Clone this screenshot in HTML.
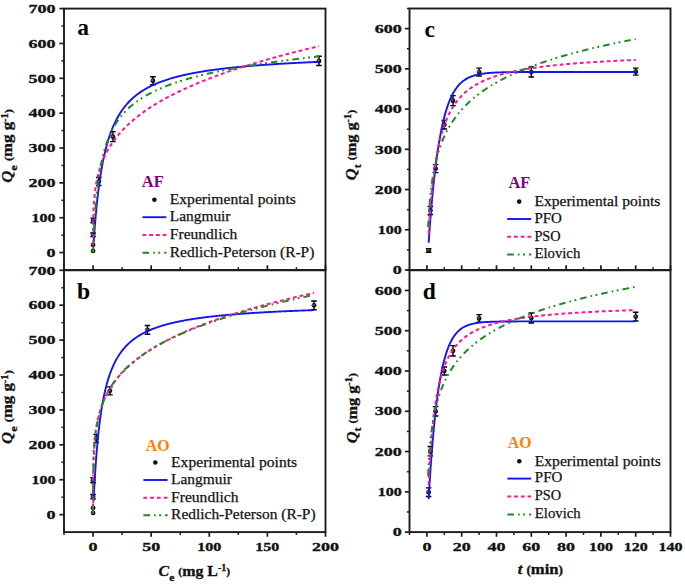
<!DOCTYPE html>
<html><head><meta charset="utf-8"><style>
html,body{margin:0;padding:0;background:#fff;}
body{width:685px;height:587px;overflow:hidden;}
svg{display:block;}
.tk{font-family:"Liberation Serif",serif;font-weight:bold;font-size:12.5px;fill:#111;stroke:#111;stroke-width:0.3px;}
.pl{font-family:"Liberation Serif",serif;font-weight:bold;font-size:23.5px;fill:#000;}
.at{font-family:"Liberation Serif",serif;font-weight:bold;font-size:15px;fill:#111;stroke:#111;stroke-width:0.3px;}
.lt{font-family:"Liberation Serif",serif;font-weight:bold;font-size:16px;}
.lg{font-family:"Liberation Serif",serif;font-size:15px;fill:#111;stroke:#111;stroke-width:0.25px;}
</style></head>
<body>
<svg width="685" height="587" viewBox="0 0 685 587">
<defs><radialGradient id="ball" cx="0.4" cy="0.4" r="0.6"><stop offset="0" stop-color="#777"/><stop offset="0.6" stop-color="#111"/><stop offset="1" stop-color="#000"/></radialGradient></defs>
<rect width="100%" height="100%" fill="#fff"/>
<circle cx="93.06" cy="250.97" r="2.4" fill="url(#ball)"/>
<circle cx="93.06" cy="244.91" r="2.4" fill="url(#ball)"/>
<path d="M90.26,233.07H95.86M90.26,236.67H95.86M93.06,233.07V236.67" stroke="#000" stroke-width="1.4" fill="none"/>
<circle cx="93.06" cy="234.87" r="2.4" fill="url(#ball)"/>
<path d="M90.37,218.10H95.97M90.37,222.70H95.97M93.17,218.10V222.70" stroke="#000" stroke-width="1.4" fill="none"/>
<circle cx="93.17" cy="220.40" r="2.4" fill="url(#ball)"/>
<path d="M95.95,177.47H101.55M95.95,185.47H101.55M98.75,177.47V185.47" stroke="#000" stroke-width="1.4" fill="none"/>
<circle cx="98.75" cy="181.47" r="2.4" fill="url(#ball)"/>
<path d="M110.13,131.65H115.73M110.13,141.65H115.73M112.93,131.65V141.65" stroke="#000" stroke-width="1.4" fill="none"/>
<circle cx="112.93" cy="136.65" r="2.4" fill="url(#ball)"/>
<path d="M150.11,76.75H155.71M150.11,84.75H155.71M152.91,76.75V84.75" stroke="#000" stroke-width="1.4" fill="none"/>
<circle cx="152.91" cy="80.75" r="2.4" fill="url(#ball)"/>
<path d="M316.19,56.28H321.79M316.19,65.48H321.79M318.99,56.28V65.48" stroke="#000" stroke-width="1.4" fill="none"/>
<circle cx="318.99" cy="60.88" r="2.4" fill="url(#ball)"/>
<circle cx="93.06" cy="512.94" r="2.4" fill="url(#ball)"/>
<circle cx="93.06" cy="507.84" r="2.4" fill="url(#ball)"/>
<path d="M90.26,494.43H95.86M90.26,498.83H95.86M93.06,494.43V498.83" stroke="#000" stroke-width="1.4" fill="none"/>
<circle cx="93.06" cy="496.63" r="2.4" fill="url(#ball)"/>
<path d="M90.26,477.80H95.86M90.26,482.80H95.86M93.06,477.80V482.80" stroke="#000" stroke-width="1.4" fill="none"/>
<circle cx="93.06" cy="480.30" r="2.4" fill="url(#ball)"/>
<path d="M93.39,434.48H98.99M93.39,442.48H98.99M96.19,434.48V442.48" stroke="#000" stroke-width="1.4" fill="none"/>
<circle cx="96.19" cy="438.48" r="2.4" fill="url(#ball)"/>
<path d="M107.11,386.83H112.71M107.11,394.83H112.71M109.91,386.83V394.83" stroke="#000" stroke-width="1.4" fill="none"/>
<circle cx="109.91" cy="390.83" r="2.4" fill="url(#ball)"/>
<path d="M144.65,325.45H150.25M144.65,334.25H150.25M147.45,325.45V334.25" stroke="#000" stroke-width="1.4" fill="none"/>
<circle cx="147.45" cy="329.85" r="2.4" fill="url(#ball)"/>
<path d="M311.19,300.95H316.79M311.19,309.75H316.79M313.99,300.95V309.75" stroke="#000" stroke-width="1.4" fill="none"/>
<circle cx="313.99" cy="305.35" r="2.4" fill="url(#ball)"/>
<path d="M425.84,248.69H431.44M425.84,252.29H431.44M428.64,248.69V252.29" stroke="#000" stroke-width="1.4" fill="none"/>
<circle cx="428.64" cy="250.49" r="2.4" fill="url(#ball)"/>
<path d="M427.58,206.46H433.18M427.58,214.46H433.18M430.38,206.46V214.46" stroke="#000" stroke-width="1.4" fill="none"/>
<circle cx="430.38" cy="210.46" r="2.4" fill="url(#ball)"/>
<path d="M432.80,164.62H438.40M432.80,172.62H438.40M435.60,164.62V172.62" stroke="#000" stroke-width="1.4" fill="none"/>
<circle cx="435.60" cy="168.62" r="2.4" fill="url(#ball)"/>
<path d="M441.50,120.57H447.10M441.50,128.97H447.10M444.30,120.57V128.97" stroke="#000" stroke-width="1.4" fill="none"/>
<circle cx="444.30" cy="124.77" r="2.4" fill="url(#ball)"/>
<path d="M450.20,95.63H455.80M450.20,105.63H455.80M453.00,95.63V105.63" stroke="#000" stroke-width="1.4" fill="none"/>
<circle cx="453.00" cy="100.63" r="2.4" fill="url(#ball)"/>
<path d="M476.30,68.16H481.90M476.30,75.96H481.90M479.10,68.16V75.96" stroke="#000" stroke-width="1.4" fill="none"/>
<circle cx="479.10" cy="72.06" r="2.4" fill="url(#ball)"/>
<path d="M528.50,67.06H534.10M528.50,77.06H534.10M531.30,67.06V77.06" stroke="#000" stroke-width="1.4" fill="none"/>
<circle cx="531.30" cy="72.06" r="2.4" fill="url(#ball)"/>
<path d="M632.90,68.16H638.50M632.90,75.16H638.50M635.70,68.16V75.16" stroke="#000" stroke-width="1.4" fill="none"/>
<circle cx="635.70" cy="71.66" r="2.4" fill="url(#ball)"/>
<path d="M425.84,487.85H431.44M425.84,496.45H431.44M428.64,487.85V496.45" stroke="#000" stroke-width="1.4" fill="none"/>
<circle cx="428.64" cy="492.15" r="2.4" fill="url(#ball)"/>
<path d="M427.58,446.48H433.18M427.58,455.88H433.18M430.38,446.48V455.88" stroke="#000" stroke-width="1.4" fill="none"/>
<circle cx="430.38" cy="451.18" r="2.4" fill="url(#ball)"/>
<path d="M432.80,406.61H438.40M432.80,416.01H438.40M435.60,406.61V416.01" stroke="#000" stroke-width="1.4" fill="none"/>
<circle cx="435.60" cy="411.31" r="2.4" fill="url(#ball)"/>
<path d="M441.50,366.99H447.10M441.50,374.99H447.10M444.30,366.99V374.99" stroke="#000" stroke-width="1.4" fill="none"/>
<circle cx="444.30" cy="370.99" r="2.4" fill="url(#ball)"/>
<path d="M450.20,345.65H455.80M450.20,356.05H455.80M453.00,345.65V356.05" stroke="#000" stroke-width="1.4" fill="none"/>
<circle cx="453.00" cy="350.85" r="2.4" fill="url(#ball)"/>
<path d="M476.30,314.67H481.90M476.30,322.27H481.90M479.10,314.67V322.27" stroke="#000" stroke-width="1.4" fill="none"/>
<circle cx="479.10" cy="318.47" r="2.4" fill="url(#ball)"/>
<path d="M528.50,312.99H534.10M528.50,322.99H534.10M531.30,312.99V322.99" stroke="#000" stroke-width="1.4" fill="none"/>
<circle cx="531.30" cy="317.99" r="2.4" fill="url(#ball)"/>
<path d="M632.90,312.22H638.50M632.90,321.02H638.50M635.70,312.22V321.02" stroke="#000" stroke-width="1.4" fill="none"/>
<circle cx="635.70" cy="316.62" r="2.4" fill="url(#ball)"/>
<path d="M93.69,242.35 L93.70,242.28 L93.70,242.21 L93.71,242.13 L93.71,242.06 L93.72,241.99 L93.72,241.91 L93.73,241.84 L93.73,241.76 L93.74,241.69 L93.74,241.61 L93.75,241.53 L93.75,241.46 L93.76,241.38 L93.76,241.30 L93.77,241.22 L93.77,241.14 L93.78,241.06 L93.79,240.98 L93.79,240.90 L93.80,240.82 L93.80,240.74 L93.81,240.66 L93.81,240.57 L93.82,240.49 L93.82,240.41 L93.83,240.32 L93.84,240.24 L93.84,240.15 L93.85,240.06 L93.85,239.98 L93.86,239.89 L93.87,239.80 L93.87,239.71 L93.88,239.62 L93.88,239.53 L93.89,239.44 L93.90,239.35 L93.90,239.26 L93.91,239.17 L93.91,239.08 L93.92,238.98 L93.93,238.89 L93.93,238.80 L93.94,238.70 L93.95,238.60 L93.95,238.51 L93.96,238.41 L93.97,238.31 L93.97,238.22 L93.98,238.12 L93.99,238.02 L93.99,237.92 L94.00,237.82 L94.01,237.72 L94.01,237.61 L94.02,237.51 L94.03,237.41 L94.04,237.30 L94.04,237.20 L94.05,237.10 L94.06,236.99 L94.07,236.88 L94.07,236.78 L94.08,236.67 L94.09,236.56 L94.10,236.45 L94.10,236.34 L94.11,236.23 L94.12,236.12 L94.13,236.01 L94.14,235.89 L94.14,235.78 L94.15,235.67 L94.16,235.55 L94.17,235.44 L94.18,235.32 L94.18,235.20 L94.19,235.09 L94.20,234.97 L94.21,234.85 L94.22,234.73 L94.23,234.61 L94.24,234.49 L94.24,234.37 L94.25,234.24 L94.26,234.12 L94.27,234.00 L94.28,233.87 L94.29,233.75 L94.30,233.62 L94.31,233.49 L94.32,233.37 L94.33,233.24 L94.33,233.11 L94.34,232.98 L94.35,232.85 L94.36,232.71 L94.37,232.58 L94.38,232.45 L94.39,232.31 L94.40,232.18 L94.41,232.04 L94.42,231.91 L94.43,231.77 L94.44,231.63 L94.45,231.49 L94.46,231.35 L94.47,231.21 L94.48,231.07 L94.50,230.93 L94.51,230.79 L94.52,230.64 L94.53,230.50 L94.54,230.35 L94.55,230.21 L94.56,230.06 L94.57,229.91 L94.58,229.76 L94.59,229.61 L94.61,229.46 L94.62,229.31 L94.63,229.16 L94.64,229.01 L94.65,228.85 L94.66,228.70 L94.68,228.54 L94.69,228.38 L94.70,228.23 L94.71,228.07 L94.72,227.91 L94.74,227.75 L94.75,227.59 L94.76,227.43 L94.77,227.26 L94.79,227.10 L94.80,226.93 L94.81,226.77 L94.83,226.60 L94.84,226.44 L94.85,226.27 L94.87,226.10 L94.88,225.93 L94.89,225.76 L94.91,225.58 L94.92,225.41 L94.93,225.24 L94.95,225.06 L94.96,224.89 L94.98,224.71 L94.99,224.53 L95.00,224.35 L95.02,224.18 L95.03,223.99 L95.05,223.81 L95.06,223.63 L95.08,223.45 L95.09,223.26 L95.11,223.08 L95.12,222.89 L95.14,222.70 L95.15,222.52 L95.17,222.33 L95.18,222.14 L95.20,221.95 L95.22,221.75 L95.23,221.56 L95.25,221.37 L95.26,221.17 L95.28,220.98 L95.30,220.78 L95.31,220.58 L95.33,220.38 L95.35,220.18 L95.36,219.98 L95.38,219.78 L95.40,219.58 L95.42,219.37 L95.43,219.17 L95.45,218.96 L95.47,218.75 L95.49,218.54 L95.51,218.34 L95.52,218.13 L95.54,217.91 L95.56,217.70 L95.58,217.49 L95.60,217.27 L95.62,217.06 L95.64,216.84 L95.65,216.63 L95.67,216.41 L95.69,216.19 L95.71,215.97 L95.73,215.75 L95.75,215.52 L95.77,215.30 L95.79,215.08 L95.81,214.85 L95.83,214.62 L95.85,214.39 L95.87,214.17 L95.90,213.94 L95.92,213.71 L95.94,213.47 L95.96,213.24 L95.98,213.01 L96.00,212.77 L96.02,212.54 L96.05,212.30 L96.07,212.06 L96.09,211.82 L96.11,211.58 L96.14,211.34 L96.16,211.10 L96.18,210.85 L96.20,210.61 L96.23,210.36 L96.25,210.12 L96.27,209.87 L96.30,209.62 L96.32,209.37 L96.35,209.12 L96.37,208.87 L96.40,208.61 L96.42,208.36 L96.45,208.11 L96.47,207.85 L96.50,207.59 L96.52,207.33 L96.55,207.08 L96.57,206.81 L96.60,206.55 L96.63,206.29 L96.65,206.03 L96.68,205.76 L96.71,205.50 L96.73,205.23 L96.76,204.96 L96.79,204.69 L96.81,204.43 L96.84,204.15 L96.87,203.88 L96.90,203.61 L96.93,203.34 L96.96,203.06 L96.99,202.79 L97.01,202.51 L97.04,202.23 L97.07,201.95 L97.10,201.67 L97.13,201.39 L97.16,201.11 L97.19,200.83 L97.22,200.54 L97.26,200.26 L97.29,199.97 L97.32,199.68 L97.35,199.39 L97.38,199.11 L97.41,198.82 L97.45,198.52 L97.48,198.23 L97.51,197.94 L97.54,197.65 L97.58,197.35 L97.61,197.05 L97.64,196.76 L97.68,196.46 L97.71,196.16 L97.75,195.86 L97.78,195.56 L97.82,195.26 L97.85,194.95 L97.89,194.65 L97.92,194.35 L97.96,194.04 L98.00,193.73 L98.03,193.43 L98.07,193.12 L98.11,192.81 L98.14,192.50 L98.18,192.19 L98.22,191.87 L98.26,191.56 L98.30,191.25 L98.33,190.93 L98.37,190.62 L98.41,190.30 L98.45,189.98 L98.49,189.66 L98.53,189.34 L98.57,189.02 L98.61,188.70 L98.66,188.38 L98.70,188.06 L98.74,187.74 L98.78,187.41 L98.82,187.09 L98.87,186.76 L99.60,181.38 L100.34,176.41 L101.08,171.81 L101.81,167.53 L102.55,163.55 L103.28,159.84 L104.02,156.36 L104.76,153.10 L105.49,150.04 L106.23,147.16 L106.96,144.44 L107.70,141.87 L108.44,139.44 L109.17,137.14 L109.91,134.95 L110.65,132.88 L111.38,130.90 L112.12,129.02 L112.85,127.23 L113.59,125.52 L114.33,123.88 L115.06,122.32 L115.80,120.82 L116.54,119.39 L117.27,118.01 L118.01,116.69 L118.74,115.42 L119.48,114.19 L120.22,113.02 L120.95,111.89 L121.69,110.79 L122.43,109.74 L123.16,108.73 L123.90,107.75 L124.63,106.80 L125.37,105.88 L126.11,105.00 L126.84,104.14 L127.58,103.31 L128.31,102.51 L129.05,101.73 L129.79,100.97 L130.52,100.24 L131.26,99.53 L132.00,98.84 L132.73,98.16 L133.47,97.51 L134.20,96.88 L134.94,96.26 L135.68,95.66 L136.41,95.08 L137.15,94.51 L137.89,93.95 L138.62,93.41 L139.36,92.89 L140.09,92.37 L140.83,91.87 L141.57,91.38 L142.30,90.91 L143.04,90.44 L143.78,89.99 L144.51,89.54 L145.25,89.11 L145.98,88.69 L146.72,88.27 L147.46,87.87 L148.19,87.47 L148.93,87.08 L149.66,86.70 L150.40,86.33 L151.14,85.97 L151.87,85.61 L152.61,85.26 L153.35,84.92 L154.08,84.59 L154.82,84.26 L155.55,83.94 L156.29,83.62 L157.03,83.32 L157.76,83.01 L158.50,82.72 L159.24,82.42 L159.97,82.14 L160.71,81.86 L161.44,81.58 L162.18,81.31 L162.92,81.04 L163.65,80.78 L164.39,80.53 L165.12,80.28 L165.86,80.03 L166.60,79.78 L167.33,79.55 L168.07,79.31 L168.81,79.08 L169.54,78.85 L170.28,78.63 L171.01,78.41 L171.75,78.19 L172.49,77.98 L173.22,77.77 L173.96,77.56 L174.70,77.36 L175.43,77.16 L176.17,76.96 L176.90,76.77 L177.64,76.58 L178.38,76.39 L179.11,76.21 L179.85,76.03 L180.59,75.85 L181.32,75.67 L182.06,75.49 L182.79,75.32 L183.53,75.15 L184.27,74.99 L185.00,74.82 L185.74,74.66 L186.47,74.50 L187.21,74.34 L187.95,74.19 L188.68,74.03 L189.42,73.88 L190.16,73.73 L190.89,73.59 L191.63,73.44 L192.36,73.30 L193.10,73.16 L193.84,73.02 L194.57,72.88 L195.31,72.74 L196.05,72.61 L196.78,72.48 L197.52,72.34 L198.25,72.22 L198.99,72.09 L199.73,71.96 L200.46,71.84 L201.20,71.71 L201.94,71.59 L202.67,71.47 L203.41,71.35 L204.14,71.24 L204.88,71.12 L205.62,71.01 L206.35,70.89 L207.09,70.78 L207.82,70.67 L208.56,70.56 L209.30,70.46 L210.03,70.35 L210.77,70.24 L211.51,70.14 L212.24,70.04 L212.98,69.93 L213.71,69.83 L214.45,69.73 L215.19,69.63 L215.92,69.54 L216.66,69.44 L217.40,69.35 L218.13,69.25 L218.87,69.16 L219.60,69.07 L220.34,68.97 L221.08,68.88 L221.81,68.79 L222.55,68.71 L223.29,68.62 L224.02,68.53 L224.76,68.45 L225.49,68.36 L226.23,68.28 L226.97,68.19 L227.70,68.11 L228.44,68.03 L229.17,67.95 L229.91,67.87 L230.65,67.79 L231.38,67.71 L232.12,67.63 L232.86,67.56 L233.59,67.48 L234.33,67.40 L235.06,67.33 L235.80,67.26 L236.54,67.18 L237.27,67.11 L238.01,67.04 L238.75,66.97 L239.48,66.90 L240.22,66.83 L240.95,66.76 L241.69,66.69 L242.43,66.62 L243.16,66.55 L243.90,66.49 L244.63,66.42 L245.37,66.35 L246.11,66.29 L246.84,66.22 L247.58,66.16 L248.32,66.10 L249.05,66.03 L249.79,65.97 L250.52,65.91 L251.26,65.85 L252.00,65.79 L252.73,65.73 L253.47,65.67 L254.21,65.61 L254.94,65.55 L255.68,65.49 L256.41,65.44 L257.15,65.38 L257.89,65.32 L258.62,65.27 L259.36,65.21 L260.10,65.16 L260.83,65.10 L261.57,65.05 L262.30,64.99 L263.04,64.94 L263.78,64.89 L264.51,64.83 L265.25,64.78 L265.98,64.73 L266.72,64.68 L267.46,64.63 L268.19,64.58 L268.93,64.53 L269.67,64.48 L270.40,64.43 L271.14,64.38 L271.87,64.33 L272.61,64.28 L273.35,64.23 L274.08,64.19 L274.82,64.14 L275.56,64.09 L276.29,64.05 L277.03,64.00 L277.76,63.95 L278.50,63.91 L279.24,63.86 L279.97,63.82 L280.71,63.77 L281.45,63.73 L282.18,63.69 L282.92,63.64 L283.65,63.60 L284.39,63.56 L285.13,63.51 L285.86,63.47 L286.60,63.43 L287.33,63.39 L288.07,63.35 L288.81,63.31 L289.54,63.27 L290.28,63.23 L291.02,63.19 L291.75,63.15 L292.49,63.11 L293.22,63.07 L293.96,63.03 L294.70,62.99 L295.43,62.95 L296.17,62.91 L296.91,62.87 L297.64,62.84 L298.38,62.80 L299.11,62.76 L299.85,62.72 L300.59,62.69 L301.32,62.65 L302.06,62.62 L302.80,62.58 L303.53,62.54 L304.27,62.51 L305.00,62.47 L305.74,62.44 L306.48,62.40 L307.21,62.37 L307.95,62.33 L308.68,62.30 L309.42,62.27 L310.16,62.23 L310.89,62.20 L311.63,62.17 L312.37,62.13 L313.10,62.10 L313.84,62.07 L314.57,62.03 L315.31,62.00 L316.05,61.97 L316.78,61.94 L317.52,61.91 L318.26,61.88 L318.99,61.84" fill="none" stroke="#1414f0" stroke-width="1.9" stroke-linejoin="round"/>
<path d="M93.06,244.98 L93.06,244.92 L93.06,244.86 L93.06,244.80 L93.06,244.73 L93.06,244.67 L93.06,244.61 L93.06,244.55 L93.06,244.48 L93.06,244.42 L93.06,244.35 L93.06,244.29 L93.06,244.22 L93.06,244.16 L93.06,244.09 L93.06,244.02 L93.06,243.95 L93.06,243.89 L93.06,243.82 L93.06,243.75 L93.06,243.68 L93.06,243.61 L93.06,243.54 L93.06,243.46 L93.06,243.39 L93.06,243.32 L93.06,243.25 L93.06,243.17 L93.06,243.10 L93.06,243.02 L93.06,242.95 L93.06,242.87 L93.06,242.79 L93.06,242.71 L93.06,242.64 L93.06,242.56 L93.06,242.48 L93.06,242.40 L93.06,242.32 L93.06,242.24 L93.06,242.15 L93.06,242.07 L93.06,241.99 L93.06,241.90 L93.06,241.82 L93.06,241.73 L93.06,241.65 L93.06,241.56 L93.06,241.47 L93.06,241.39 L93.06,241.30 L93.06,241.21 L93.06,241.12 L93.06,241.03 L93.06,240.93 L93.06,240.84 L93.06,240.75 L93.06,240.66 L93.06,240.56 L93.06,240.47 L93.06,240.37 L93.06,240.27 L93.06,240.18 L93.06,240.08 L93.06,239.98 L93.06,239.88 L93.06,239.78 L93.06,239.68 L93.06,239.57 L93.06,239.47 L93.06,239.37 L93.06,239.26 L93.06,239.16 L93.06,239.05 L93.06,238.94 L93.06,238.83 L93.06,238.72 L93.06,238.61 L93.06,238.50 L93.06,238.39 L93.06,238.28 L93.06,238.17 L93.06,238.05 L93.06,237.94 L93.06,237.82 L93.06,237.70 L93.06,237.59 L93.06,237.47 L93.06,237.35 L93.06,237.23 L93.06,237.10 L93.07,236.98 L93.07,236.86 L93.07,236.73 L93.07,236.61 L93.07,236.48 L93.07,236.35 L93.07,236.22 L93.07,236.09 L93.07,235.96 L93.07,235.83 L93.07,235.70 L93.07,235.57 L93.07,235.43 L93.07,235.29 L93.07,235.16 L93.07,235.02 L93.07,234.88 L93.07,234.74 L93.07,234.60 L93.07,234.46 L93.07,234.31 L93.07,234.17 L93.07,234.02 L93.08,233.87 L93.08,233.73 L93.08,233.58 L93.08,233.43 L93.08,233.27 L93.08,233.12 L93.08,232.97 L93.08,232.81 L93.08,232.65 L93.08,232.50 L93.08,232.34 L93.08,232.18 L93.08,232.01 L93.08,231.85 L93.09,231.69 L93.09,231.52 L93.09,231.35 L93.09,231.19 L93.09,231.02 L93.09,230.84 L93.09,230.67 L93.09,230.50 L93.09,230.32 L93.10,230.15 L93.10,229.97 L93.10,229.79 L93.10,229.61 L93.10,229.43 L93.10,229.24 L93.10,229.06 L93.10,228.87 L93.11,228.68 L93.11,228.49 L93.11,228.30 L93.11,228.11 L93.11,227.92 L93.11,227.72 L93.12,227.52 L93.12,227.32 L93.12,227.12 L93.12,226.92 L93.12,226.72 L93.13,226.51 L93.13,226.31 L93.13,226.10 L93.13,225.89 L93.14,225.68 L93.14,225.46 L93.14,225.25 L93.14,225.03 L93.15,224.81 L93.15,224.59 L93.15,224.37 L93.16,224.15 L93.16,223.92 L93.16,223.69 L93.16,223.46 L93.17,223.23 L93.17,223.00 L93.18,222.77 L93.18,222.53 L93.18,222.29 L93.19,222.05 L93.19,221.81 L93.20,221.56 L93.20,221.32 L93.20,221.07 L93.21,220.82 L93.21,220.57 L93.22,220.31 L93.22,220.06 L93.23,219.80 L93.23,219.54 L93.24,219.28 L93.25,219.01 L93.25,218.75 L93.26,218.48 L93.26,218.21 L93.27,217.94 L93.28,217.66 L93.28,217.39 L93.29,217.11 L93.30,216.82 L93.31,216.54 L93.31,216.26 L93.32,215.97 L93.33,215.68 L93.34,215.38 L93.35,215.09 L93.36,214.79 L93.37,214.49 L93.38,214.19 L93.39,213.88 L93.40,213.58 L93.41,213.27 L93.42,212.96 L93.43,212.64 L93.44,212.33 L93.45,212.01 L93.47,211.68 L93.48,211.36 L93.49,211.03 L93.51,210.70 L93.52,210.37 L93.53,210.04 L93.55,209.70 L93.57,209.36 L93.58,209.02 L93.60,208.67 L93.61,208.32 L93.63,207.97 L93.65,207.62 L93.67,207.26 L93.69,206.90 L93.71,206.54 L93.73,206.17 L93.75,205.81 L93.77,205.43 L93.79,205.06 L93.82,204.68 L93.84,204.30 L93.86,203.92 L93.89,203.53 L93.92,203.14 L93.94,202.75 L93.97,202.36 L94.00,201.96 L94.03,201.56 L94.06,201.15 L94.09,200.74 L94.12,200.33 L94.16,199.92 L94.19,199.50 L94.23,199.08 L94.26,198.66 L94.30,198.23 L94.34,197.80 L94.38,197.36 L94.42,196.92 L94.46,196.48 L94.51,196.04 L94.55,195.59 L94.60,195.14 L94.65,194.68 L94.70,194.22 L94.75,193.76 L94.80,193.29 L94.86,192.82 L94.91,192.35 L94.97,191.87 L95.03,191.39 L95.09,190.90 L95.16,190.41 L95.22,189.92 L95.29,189.42 L95.36,188.92 L95.43,188.42 L95.51,187.91 L95.59,187.40 L95.66,186.88 L95.75,186.36 L95.83,185.83 L95.92,185.30 L96.01,184.77 L96.10,184.23 L96.19,183.69 L96.29,183.14 L96.39,182.59 L96.50,182.04 L96.61,181.48 L96.72,180.91 L96.83,180.34 L96.95,179.77 L97.07,179.19 L97.20,178.61 L97.33,178.02 L97.46,177.43 L97.60,176.84 L97.74,176.24 L97.89,175.63 L98.04,175.02 L98.19,174.40 L98.35,173.78 L98.52,173.16 L98.69,172.53 L98.87,171.89 L99.60,169.39 L100.34,167.08 L101.08,164.94 L101.81,162.95 L102.55,161.07 L103.28,159.30 L104.02,157.62 L104.76,156.02 L105.49,154.50 L106.23,153.04 L106.96,151.65 L107.70,150.30 L108.44,149.01 L109.17,147.76 L109.91,146.55 L110.65,145.38 L111.38,144.25 L112.12,143.15 L112.85,142.08 L113.59,141.04 L114.33,140.02 L115.06,139.04 L115.80,138.07 L116.54,137.14 L117.27,136.22 L118.01,135.32 L118.74,134.44 L119.48,133.58 L120.22,132.74 L120.95,131.92 L121.69,131.11 L122.43,130.31 L123.16,129.53 L123.90,128.77 L124.63,128.02 L125.37,127.28 L126.11,126.55 L126.84,125.84 L127.58,125.14 L128.31,124.44 L129.05,123.76 L129.79,123.09 L130.52,122.43 L131.26,121.78 L132.00,121.14 L132.73,120.50 L133.47,119.88 L134.20,119.26 L134.94,118.66 L135.68,118.06 L136.41,117.46 L137.15,116.88 L137.89,116.30 L138.62,115.73 L139.36,115.17 L140.09,114.61 L140.83,114.06 L141.57,113.51 L142.30,112.98 L143.04,112.44 L143.78,111.92 L144.51,111.40 L145.25,110.88 L145.98,110.37 L146.72,109.87 L147.46,109.37 L148.19,108.87 L148.93,108.38 L149.66,107.90 L150.40,107.42 L151.14,106.94 L151.87,106.47 L152.61,106.00 L153.35,105.54 L154.08,105.08 L154.82,104.63 L155.55,104.18 L156.29,103.73 L157.03,103.29 L157.76,102.85 L158.50,102.41 L159.24,101.98 L159.97,101.55 L160.71,101.13 L161.44,100.71 L162.18,100.29 L162.92,99.87 L163.65,99.46 L164.39,99.06 L165.12,98.65 L165.86,98.25 L166.60,97.85 L167.33,97.45 L168.07,97.06 L168.81,96.67 L169.54,96.28 L170.28,95.90 L171.01,95.52 L171.75,95.14 L172.49,94.76 L173.22,94.39 L173.96,94.02 L174.70,93.65 L175.43,93.28 L176.17,92.92 L176.90,92.56 L177.64,92.20 L178.38,91.84 L179.11,91.48 L179.85,91.13 L180.59,90.78 L181.32,90.43 L182.06,90.09 L182.79,89.74 L183.53,89.40 L184.27,89.06 L185.00,88.73 L185.74,88.39 L186.47,88.06 L187.21,87.72 L187.95,87.39 L188.68,87.07 L189.42,86.74 L190.16,86.42 L190.89,86.09 L191.63,85.77 L192.36,85.46 L193.10,85.14 L193.84,84.82 L194.57,84.51 L195.31,84.20 L196.05,83.89 L196.78,83.58 L197.52,83.27 L198.25,82.97 L198.99,82.66 L199.73,82.36 L200.46,82.06 L201.20,81.76 L201.94,81.46 L202.67,81.17 L203.41,80.87 L204.14,80.58 L204.88,80.29 L205.62,80.00 L206.35,79.71 L207.09,79.42 L207.82,79.14 L208.56,78.85 L209.30,78.57 L210.03,78.28 L210.77,78.00 L211.51,77.72 L212.24,77.45 L212.98,77.17 L213.71,76.89 L214.45,76.62 L215.19,76.35 L215.92,76.07 L216.66,75.80 L217.40,75.53 L218.13,75.27 L218.87,75.00 L219.60,74.73 L220.34,74.47 L221.08,74.20 L221.81,73.94 L222.55,73.68 L223.29,73.42 L224.02,73.16 L224.76,72.90 L225.49,72.65 L226.23,72.39 L226.97,72.13 L227.70,71.88 L228.44,71.63 L229.17,71.38 L229.91,71.12 L230.65,70.87 L231.38,70.63 L232.12,70.38 L232.86,70.13 L233.59,69.88 L234.33,69.64 L235.06,69.40 L235.80,69.15 L236.54,68.91 L237.27,68.67 L238.01,68.43 L238.75,68.19 L239.48,67.95 L240.22,67.71 L240.95,67.48 L241.69,67.24 L242.43,67.00 L243.16,66.77 L243.90,66.54 L244.63,66.30 L245.37,66.07 L246.11,65.84 L246.84,65.61 L247.58,65.38 L248.32,65.15 L249.05,64.93 L249.79,64.70 L250.52,64.47 L251.26,64.25 L252.00,64.02 L252.73,63.80 L253.47,63.58 L254.21,63.36 L254.94,63.13 L255.68,62.91 L256.41,62.69 L257.15,62.47 L257.89,62.26 L258.62,62.04 L259.36,61.82 L260.10,61.61 L260.83,61.39 L261.57,61.17 L262.30,60.96 L263.04,60.75 L263.78,60.53 L264.51,60.32 L265.25,60.11 L265.98,59.90 L266.72,59.69 L267.46,59.48 L268.19,59.27 L268.93,59.06 L269.67,58.86 L270.40,58.65 L271.14,58.44 L271.87,58.24 L272.61,58.03 L273.35,57.83 L274.08,57.62 L274.82,57.42 L275.56,57.22 L276.29,57.02 L277.03,56.82 L277.76,56.62 L278.50,56.41 L279.24,56.22 L279.97,56.02 L280.71,55.82 L281.45,55.62 L282.18,55.42 L282.92,55.23 L283.65,55.03 L284.39,54.84 L285.13,54.64 L285.86,54.45 L286.60,54.25 L287.33,54.06 L288.07,53.87 L288.81,53.67 L289.54,53.48 L290.28,53.29 L291.02,53.10 L291.75,52.91 L292.49,52.72 L293.22,52.53 L293.96,52.34 L294.70,52.16 L295.43,51.97 L296.17,51.78 L296.91,51.59 L297.64,51.41 L298.38,51.22 L299.11,51.04 L299.85,50.85 L300.59,50.67 L301.32,50.49 L302.06,50.30 L302.80,50.12 L303.53,49.94 L304.27,49.76 L305.00,49.58 L305.74,49.40 L306.48,49.21 L307.21,49.04 L307.95,48.86 L308.68,48.68 L309.42,48.50 L310.16,48.32 L310.89,48.14 L311.63,47.97 L312.37,47.79 L313.10,47.61 L313.84,47.44 L314.57,47.26 L315.31,47.09 L316.05,46.91 L316.78,46.74 L317.52,46.57 L318.26,46.39 L318.99,46.22" fill="none" stroke="#ff1493" stroke-width="2" stroke-dasharray="3.8 2.95"/>
<path d="M93.06,252.57 L93.06,252.57 L93.06,252.57 L93.06,252.57 L93.06,252.57 L93.06,252.57 L93.06,252.57 L93.06,252.57 L93.06,252.57 L93.06,252.57 L93.06,252.57 L93.06,252.57 L93.06,252.57 L93.06,252.57 L93.06,252.57 L93.06,252.57 L93.06,252.57 L93.06,252.57 L93.06,252.57 L93.06,252.57 L93.06,252.57 L93.06,252.57 L93.06,252.57 L93.06,252.57 L93.06,252.57 L93.06,252.57 L93.06,252.56 L93.06,252.56 L93.06,252.56 L93.06,252.56 L93.06,252.56 L93.06,252.56 L93.06,252.56 L93.06,252.56 L93.06,252.56 L93.06,252.56 L93.06,252.56 L93.06,252.56 L93.06,252.56 L93.06,252.56 L93.06,252.56 L93.06,252.56 L93.06,252.56 L93.06,252.56 L93.06,252.56 L93.06,252.56 L93.06,252.56 L93.06,252.56 L93.06,252.55 L93.06,252.55 L93.06,252.55 L93.06,252.55 L93.06,252.55 L93.06,252.55 L93.06,252.55 L93.06,252.55 L93.06,252.55 L93.06,252.55 L93.06,252.55 L93.06,252.55 L93.06,252.54 L93.06,252.54 L93.06,252.54 L93.06,252.54 L93.06,252.54 L93.06,252.54 L93.06,252.54 L93.06,252.54 L93.06,252.54 L93.06,252.53 L93.06,252.53 L93.06,252.53 L93.06,252.53 L93.06,252.53 L93.06,252.53 L93.06,252.52 L93.06,252.52 L93.06,252.52 L93.06,252.52 L93.06,252.52 L93.06,252.51 L93.06,252.51 L93.06,252.51 L93.06,252.51 L93.06,252.51 L93.06,252.50 L93.06,252.50 L93.06,252.50 L93.06,252.49 L93.06,252.49 L93.06,252.49 L93.06,252.49 L93.06,252.48 L93.06,252.48 L93.06,252.48 L93.06,252.47 L93.06,252.47 L93.06,252.46 L93.06,252.46 L93.06,252.46 L93.06,252.45 L93.06,252.45 L93.06,252.44 L93.06,252.44 L93.06,252.43 L93.06,252.43 L93.06,252.42 L93.06,252.42 L93.06,252.41 L93.06,252.40 L93.06,252.40 L93.06,252.39 L93.06,252.39 L93.06,252.38 L93.06,252.37 L93.06,252.36 L93.06,252.36 L93.06,252.35 L93.06,252.34 L93.06,252.33 L93.06,252.32 L93.06,252.31 L93.07,252.30 L93.07,252.29 L93.07,252.28 L93.07,252.27 L93.07,252.26 L93.07,252.25 L93.07,252.24 L93.07,252.23 L93.07,252.21 L93.07,252.20 L93.07,252.19 L93.07,252.17 L93.07,252.16 L93.07,252.14 L93.07,252.13 L93.07,252.11 L93.07,252.09 L93.07,252.08 L93.07,252.06 L93.07,252.04 L93.08,252.02 L93.08,252.00 L93.08,251.98 L93.08,251.96 L93.08,251.93 L93.08,251.91 L93.08,251.89 L93.08,251.86 L93.08,251.83 L93.08,251.81 L93.08,251.78 L93.09,251.75 L93.09,251.72 L93.09,251.69 L93.09,251.66 L93.09,251.62 L93.09,251.59 L93.09,251.55 L93.09,251.52 L93.09,251.48 L93.10,251.44 L93.10,251.40 L93.10,251.35 L93.10,251.31 L93.10,251.26 L93.10,251.22 L93.11,251.17 L93.11,251.12 L93.11,251.06 L93.11,251.01 L93.11,250.95 L93.12,250.89 L93.12,250.83 L93.12,250.77 L93.12,250.70 L93.13,250.64 L93.13,250.57 L93.13,250.49 L93.13,250.42 L93.14,250.34 L93.14,250.26 L93.14,250.18 L93.15,250.09 L93.15,250.00 L93.15,249.91 L93.16,249.81 L93.16,249.71 L93.16,249.61 L93.17,249.51 L93.17,249.40 L93.18,249.28 L93.18,249.17 L93.19,249.04 L93.19,248.92 L93.20,248.79 L93.20,248.65 L93.21,248.51 L93.21,248.37 L93.22,248.22 L93.22,248.07 L93.23,247.91 L93.24,247.75 L93.24,247.58 L93.25,247.40 L93.26,247.22 L93.26,247.03 L93.27,246.84 L93.28,246.64 L93.29,246.43 L93.30,246.22 L93.31,245.99 L93.31,245.77 L93.32,245.53 L93.33,245.29 L93.34,245.04 L93.35,244.78 L93.37,244.51 L93.38,244.23 L93.39,243.95 L93.40,243.65 L93.41,243.35 L93.43,243.04 L93.44,242.72 L93.45,242.38 L93.47,242.04 L93.48,241.69 L93.50,241.32 L93.52,240.95 L93.53,240.56 L93.55,240.17 L93.57,239.76 L93.59,239.33 L93.61,238.90 L93.63,238.45 L93.65,237.99 L93.67,237.52 L93.69,237.03 L93.72,236.53 L93.74,236.02 L93.77,235.49 L93.79,234.95 L93.82,234.39 L93.85,233.82 L93.88,233.23 L93.91,232.63 L93.94,232.01 L93.97,231.38 L94.01,230.73 L94.04,230.06 L94.08,229.38 L94.12,228.68 L94.16,227.96 L94.20,227.22 L94.24,226.47 L94.28,225.70 L94.33,224.92 L94.37,224.11 L94.42,223.29 L94.47,222.45 L94.52,221.59 L94.58,220.71 L94.63,219.82 L94.69,218.91 L94.75,217.98 L94.82,217.03 L94.88,216.06 L94.95,215.08 L95.02,214.07 L95.09,213.05 L95.17,212.01 L95.24,210.95 L95.32,209.88 L95.41,208.79 L95.49,207.68 L95.58,206.55 L95.68,205.41 L95.77,204.25 L95.87,203.08 L95.98,201.89 L96.09,200.68 L96.20,199.46 L96.31,198.22 L96.43,196.97 L96.56,195.70 L96.69,194.42 L96.82,193.13 L96.96,191.83 L97.10,190.51 L97.25,189.18 L97.41,187.84 L97.57,186.49 L97.73,185.12 L97.90,183.75 L98.08,182.37 L98.27,180.98 L98.46,179.58 L98.66,178.18 L98.87,176.77 L99.60,172.07 L100.34,167.83 L101.08,163.98 L101.81,160.46 L102.55,157.23 L103.28,154.24 L104.02,151.47 L104.76,148.89 L105.49,146.48 L106.23,144.22 L106.96,142.09 L107.70,140.09 L108.44,138.20 L109.17,136.41 L109.91,134.70 L110.65,133.09 L111.38,131.54 L112.12,130.07 L112.85,128.66 L113.59,127.32 L114.33,126.03 L115.06,124.79 L115.80,123.60 L116.54,122.45 L117.27,121.35 L118.01,120.28 L118.74,119.25 L119.48,118.26 L120.22,117.30 L120.95,116.37 L121.69,115.47 L122.43,114.59 L123.16,113.75 L123.90,112.92 L124.63,112.12 L125.37,111.35 L126.11,110.59 L126.84,109.86 L127.58,109.14 L128.31,108.44 L129.05,107.76 L129.79,107.09 L130.52,106.45 L131.26,105.81 L132.00,105.19 L132.73,104.59 L133.47,104.00 L134.20,103.42 L134.94,102.85 L135.68,102.30 L136.41,101.76 L137.15,101.23 L137.89,100.71 L138.62,100.20 L139.36,99.70 L140.09,99.20 L140.83,98.72 L141.57,98.25 L142.30,97.78 L143.04,97.33 L143.78,96.88 L144.51,96.44 L145.25,96.01 L145.98,95.58 L146.72,95.16 L147.46,94.75 L148.19,94.35 L148.93,93.95 L149.66,93.56 L150.40,93.17 L151.14,92.79 L151.87,92.41 L152.61,92.05 L153.35,91.68 L154.08,91.32 L154.82,90.97 L155.55,90.62 L156.29,90.28 L157.03,89.94 L157.76,89.61 L158.50,89.28 L159.24,88.95 L159.97,88.63 L160.71,88.31 L161.44,88.00 L162.18,87.69 L162.92,87.39 L163.65,87.09 L164.39,86.79 L165.12,86.50 L165.86,86.21 L166.60,85.92 L167.33,85.64 L168.07,85.36 L168.81,85.08 L169.54,84.81 L170.28,84.54 L171.01,84.27 L171.75,84.00 L172.49,83.74 L173.22,83.48 L173.96,83.23 L174.70,82.97 L175.43,82.72 L176.17,82.47 L176.90,82.23 L177.64,81.99 L178.38,81.75 L179.11,81.51 L179.85,81.27 L180.59,81.04 L181.32,80.81 L182.06,80.58 L182.79,80.35 L183.53,80.13 L184.27,79.90 L185.00,79.68 L185.74,79.47 L186.47,79.25 L187.21,79.04 L187.95,78.82 L188.68,78.61 L189.42,78.40 L190.16,78.20 L190.89,77.99 L191.63,77.79 L192.36,77.59 L193.10,77.39 L193.84,77.19 L194.57,76.99 L195.31,76.80 L196.05,76.60 L196.78,76.41 L197.52,76.22 L198.25,76.03 L198.99,75.85 L199.73,75.66 L200.46,75.48 L201.20,75.30 L201.94,75.11 L202.67,74.93 L203.41,74.76 L204.14,74.58 L204.88,74.40 L205.62,74.23 L206.35,74.06 L207.09,73.88 L207.82,73.71 L208.56,73.54 L209.30,73.38 L210.03,73.21 L210.77,73.04 L211.51,72.88 L212.24,72.71 L212.98,72.55 L213.71,72.39 L214.45,72.23 L215.19,72.07 L215.92,71.91 L216.66,71.76 L217.40,71.60 L218.13,71.45 L218.87,71.29 L219.60,71.14 L220.34,70.99 L221.08,70.84 L221.81,70.69 L222.55,70.54 L223.29,70.39 L224.02,70.25 L224.76,70.10 L225.49,69.95 L226.23,69.81 L226.97,69.67 L227.70,69.52 L228.44,69.38 L229.17,69.24 L229.91,69.10 L230.65,68.96 L231.38,68.83 L232.12,68.69 L232.86,68.55 L233.59,68.42 L234.33,68.28 L235.06,68.15 L235.80,68.01 L236.54,67.88 L237.27,67.75 L238.01,67.62 L238.75,67.49 L239.48,67.36 L240.22,67.23 L240.95,67.10 L241.69,66.97 L242.43,66.85 L243.16,66.72 L243.90,66.60 L244.63,66.47 L245.37,66.35 L246.11,66.22 L246.84,66.10 L247.58,65.98 L248.32,65.86 L249.05,65.74 L249.79,65.62 L250.52,65.50 L251.26,65.38 L252.00,65.26 L252.73,65.14 L253.47,65.03 L254.21,64.91 L254.94,64.79 L255.68,64.68 L256.41,64.56 L257.15,64.45 L257.89,64.34 L258.62,64.22 L259.36,64.11 L260.10,64.00 L260.83,63.89 L261.57,63.78 L262.30,63.67 L263.04,63.56 L263.78,63.45 L264.51,63.34 L265.25,63.23 L265.98,63.12 L266.72,63.01 L267.46,62.91 L268.19,62.80 L268.93,62.69 L269.67,62.59 L270.40,62.48 L271.14,62.38 L271.87,62.28 L272.61,62.17 L273.35,62.07 L274.08,61.97 L274.82,61.87 L275.56,61.76 L276.29,61.66 L277.03,61.56 L277.76,61.46 L278.50,61.36 L279.24,61.26 L279.97,61.16 L280.71,61.06 L281.45,60.97 L282.18,60.87 L282.92,60.77 L283.65,60.67 L284.39,60.58 L285.13,60.48 L285.86,60.39 L286.60,60.29 L287.33,60.20 L288.07,60.10 L288.81,60.01 L289.54,59.91 L290.28,59.82 L291.02,59.73 L291.75,59.63 L292.49,59.54 L293.22,59.45 L293.96,59.36 L294.70,59.27 L295.43,59.18 L296.17,59.09 L296.91,59.00 L297.64,58.91 L298.38,58.82 L299.11,58.73 L299.85,58.64 L300.59,58.55 L301.32,58.46 L302.06,58.37 L302.80,58.29 L303.53,58.20 L304.27,58.11 L305.00,58.03 L305.74,57.94 L306.48,57.86 L307.21,57.77 L307.95,57.68 L308.68,57.60 L309.42,57.52 L310.16,57.43 L310.89,57.35 L311.63,57.26 L312.37,57.18 L313.10,57.10 L313.84,57.01 L314.57,56.93 L315.31,56.85 L316.05,56.77 L316.78,56.69 L317.52,56.61 L318.26,56.52 L318.99,56.44" fill="none" stroke="#1f8a1f" stroke-width="2" stroke-dasharray="6.6 4.1 1.6 3.5 1.9 4"/>
<path d="M93.64,501.22 L93.64,501.12 L93.65,501.02 L93.65,500.92 L93.65,500.83 L93.66,500.73 L93.66,500.63 L93.67,500.52 L93.67,500.42 L93.68,500.32 L93.68,500.22 L93.69,500.11 L93.69,500.01 L93.70,499.90 L93.70,499.80 L93.71,499.69 L93.71,499.58 L93.72,499.47 L93.72,499.37 L93.73,499.26 L93.73,499.15 L93.74,499.03 L93.74,498.92 L93.75,498.81 L93.75,498.70 L93.76,498.58 L93.77,498.47 L93.77,498.35 L93.78,498.24 L93.78,498.12 L93.79,498.00 L93.79,497.88 L93.80,497.76 L93.80,497.64 L93.81,497.52 L93.82,497.40 L93.82,497.28 L93.83,497.16 L93.83,497.03 L93.84,496.91 L93.85,496.78 L93.85,496.66 L93.86,496.53 L93.86,496.40 L93.87,496.27 L93.88,496.14 L93.88,496.01 L93.89,495.88 L93.90,495.75 L93.90,495.61 L93.91,495.48 L93.92,495.35 L93.92,495.21 L93.93,495.07 L93.94,494.94 L93.94,494.80 L93.95,494.66 L93.96,494.52 L93.96,494.38 L93.97,494.24 L93.98,494.09 L93.99,493.95 L93.99,493.81 L94.00,493.66 L94.01,493.52 L94.01,493.37 L94.02,493.22 L94.03,493.07 L94.04,492.92 L94.04,492.77 L94.05,492.62 L94.06,492.47 L94.07,492.31 L94.08,492.16 L94.08,492.00 L94.09,491.85 L94.10,491.69 L94.11,491.53 L94.12,491.37 L94.12,491.21 L94.13,491.05 L94.14,490.89 L94.15,490.73 L94.16,490.56 L94.17,490.40 L94.17,490.23 L94.18,490.07 L94.19,489.90 L94.20,489.73 L94.21,489.56 L94.22,489.39 L94.23,489.22 L94.24,489.04 L94.24,488.87 L94.25,488.69 L94.26,488.52 L94.27,488.34 L94.28,488.16 L94.29,487.98 L94.30,487.80 L94.31,487.62 L94.32,487.44 L94.33,487.26 L94.34,487.07 L94.35,486.89 L94.36,486.70 L94.37,486.51 L94.38,486.33 L94.39,486.14 L94.40,485.95 L94.41,485.75 L94.42,485.56 L94.43,485.37 L94.44,485.17 L94.45,484.98 L94.46,484.78 L94.48,484.58 L94.49,484.38 L94.50,484.18 L94.51,483.98 L94.52,483.78 L94.53,483.57 L94.54,483.37 L94.55,483.16 L94.57,482.96 L94.58,482.75 L94.59,482.54 L94.60,482.33 L94.61,482.12 L94.62,481.90 L94.64,481.69 L94.65,481.47 L94.66,481.26 L94.67,481.04 L94.69,480.82 L94.70,480.60 L94.71,480.38 L94.72,480.16 L94.74,479.94 L94.75,479.71 L94.76,479.49 L94.78,479.26 L94.79,479.03 L94.80,478.80 L94.82,478.57 L94.83,478.34 L94.84,478.11 L94.86,477.88 L94.87,477.64 L94.89,477.41 L94.90,477.17 L94.91,476.93 L94.93,476.69 L94.94,476.45 L94.96,476.21 L94.97,475.97 L94.99,475.72 L95.00,475.48 L95.02,475.23 L95.03,474.98 L95.05,474.73 L95.06,474.48 L95.08,474.23 L95.09,473.98 L95.11,473.72 L95.13,473.47 L95.14,473.21 L95.16,472.95 L95.17,472.70 L95.19,472.44 L95.21,472.18 L95.22,471.91 L95.24,471.65 L95.26,471.38 L95.27,471.12 L95.29,470.85 L95.31,470.58 L95.33,470.31 L95.34,470.04 L95.36,469.77 L95.38,469.50 L95.40,469.22 L95.42,468.95 L95.43,468.67 L95.45,468.39 L95.47,468.11 L95.49,467.83 L95.51,467.55 L95.53,467.27 L95.55,466.98 L95.57,466.70 L95.59,466.41 L95.60,466.12 L95.62,465.84 L95.64,465.55 L95.66,465.25 L95.68,464.96 L95.70,464.67 L95.73,464.37 L95.75,464.08 L95.77,463.78 L95.79,463.48 L95.81,463.18 L95.83,462.88 L95.85,462.58 L95.87,462.27 L95.89,461.97 L95.92,461.66 L95.94,461.36 L95.96,461.05 L95.98,460.74 L96.01,460.43 L96.03,460.12 L96.05,459.81 L96.08,459.49 L96.10,459.18 L96.12,458.86 L96.15,458.54 L96.17,458.22 L96.19,457.90 L96.22,457.58 L96.24,457.26 L96.27,456.94 L96.29,456.61 L96.32,456.29 L96.34,455.96 L96.37,455.63 L96.39,455.31 L96.42,454.98 L96.45,454.64 L96.47,454.31 L96.50,453.98 L96.52,453.64 L96.55,453.31 L96.58,452.97 L96.61,452.64 L96.63,452.30 L96.66,451.96 L96.69,451.62 L96.72,451.27 L96.74,450.93 L96.77,450.59 L96.80,450.24 L96.83,449.90 L96.86,449.55 L96.89,449.20 L96.92,448.85 L96.95,448.50 L96.98,448.15 L97.01,447.80 L97.04,447.44 L97.07,447.09 L97.10,446.73 L97.13,446.38 L97.16,446.02 L97.20,445.66 L97.23,445.30 L97.26,444.94 L97.29,444.58 L97.33,444.22 L97.36,443.86 L97.39,443.49 L97.43,443.13 L97.46,442.76 L97.49,442.39 L97.53,442.03 L97.56,441.66 L97.60,441.29 L97.63,440.92 L97.67,440.55 L97.70,440.17 L97.74,439.80 L97.78,439.43 L97.81,439.05 L97.85,438.68 L97.89,438.30 L97.92,437.92 L97.96,437.55 L98.00,437.17 L98.04,436.79 L98.08,436.41 L98.11,436.03 L98.15,435.64 L98.19,435.26 L98.23,434.88 L98.27,434.49 L98.31,434.11 L98.35,433.72 L98.39,433.34 L98.44,432.95 L98.48,432.56 L98.52,432.18 L98.56,431.79 L98.60,431.40 L98.65,431.01 L98.69,430.62 L98.73,430.22 L98.78,429.83 L98.82,429.44 L98.87,429.05 L99.59,423.02 L100.31,417.53 L101.03,412.53 L101.74,407.94 L102.46,403.72 L103.18,399.82 L103.90,396.20 L104.62,392.85 L105.34,389.73 L106.06,386.81 L106.78,384.09 L107.50,381.53 L108.22,379.13 L108.94,376.87 L109.66,374.73 L110.38,372.72 L111.10,370.82 L111.82,369.01 L112.54,367.30 L113.26,365.67 L113.98,364.12 L114.70,362.65 L115.41,361.24 L116.13,359.90 L116.85,358.62 L117.57,357.39 L118.29,356.22 L119.01,355.09 L119.73,354.01 L120.45,352.98 L121.17,351.98 L121.89,351.02 L122.61,350.10 L123.33,349.21 L124.05,348.36 L124.77,347.53 L125.49,346.74 L126.21,345.97 L126.93,345.23 L127.65,344.51 L128.37,343.82 L129.09,343.14 L129.80,342.49 L130.52,341.86 L131.24,341.25 L131.96,340.66 L132.68,340.09 L133.40,339.53 L134.12,338.99 L134.84,338.46 L135.56,337.95 L136.28,337.45 L137.00,336.97 L137.72,336.50 L138.44,336.04 L139.16,335.60 L139.88,335.16 L140.60,334.74 L141.32,334.33 L142.04,333.92 L142.76,333.53 L143.48,333.15 L144.19,332.78 L144.91,332.41 L145.63,332.05 L146.35,331.71 L147.07,331.37 L147.79,331.04 L148.51,330.71 L149.23,330.39 L149.95,330.08 L150.67,329.78 L151.39,329.48 L152.11,329.19 L152.83,328.91 L153.55,328.63 L154.27,328.36 L154.99,328.09 L155.71,327.83 L156.43,327.57 L157.15,327.32 L157.86,327.07 L158.58,326.83 L159.30,326.59 L160.02,326.36 L160.74,326.13 L161.46,325.91 L162.18,325.69 L162.90,325.47 L163.62,325.26 L164.34,325.05 L165.06,324.85 L165.78,324.64 L166.50,324.45 L167.22,324.25 L167.94,324.06 L168.66,323.87 L169.38,323.69 L170.10,323.51 L170.82,323.33 L171.54,323.16 L172.25,322.98 L172.97,322.81 L173.69,322.65 L174.41,322.48 L175.13,322.32 L175.85,322.16 L176.57,322.01 L177.29,321.85 L178.01,321.70 L178.73,321.55 L179.45,321.41 L180.17,321.26 L180.89,321.12 L181.61,320.98 L182.33,320.84 L183.05,320.70 L183.77,320.57 L184.49,320.44 L185.21,320.30 L185.92,320.18 L186.64,320.05 L187.36,319.92 L188.08,319.80 L188.80,319.68 L189.52,319.56 L190.24,319.44 L190.96,319.32 L191.68,319.21 L192.40,319.09 L193.12,318.98 L193.84,318.87 L194.56,318.76 L195.28,318.65 L196.00,318.55 L196.72,318.44 L197.44,318.34 L198.16,318.24 L198.88,318.13 L199.60,318.03 L200.31,317.94 L201.03,317.84 L201.75,317.74 L202.47,317.65 L203.19,317.55 L203.91,317.46 L204.63,317.37 L205.35,317.28 L206.07,317.19 L206.79,317.10 L207.51,317.01 L208.23,316.93 L208.95,316.84 L209.67,316.76 L210.39,316.67 L211.11,316.59 L211.83,316.51 L212.55,316.43 L213.27,316.35 L213.98,316.27 L214.70,316.19 L215.42,316.11 L216.14,316.04 L216.86,315.96 L217.58,315.89 L218.30,315.81 L219.02,315.74 L219.74,315.67 L220.46,315.60 L221.18,315.52 L221.90,315.45 L222.62,315.38 L223.34,315.32 L224.06,315.25 L224.78,315.18 L225.50,315.11 L226.22,315.05 L226.94,314.98 L227.66,314.92 L228.37,314.86 L229.09,314.79 L229.81,314.73 L230.53,314.67 L231.25,314.61 L231.97,314.54 L232.69,314.48 L233.41,314.43 L234.13,314.37 L234.85,314.31 L235.57,314.25 L236.29,314.19 L237.01,314.14 L237.73,314.08 L238.45,314.02 L239.17,313.97 L239.89,313.91 L240.61,313.86 L241.33,313.81 L242.05,313.75 L242.76,313.70 L243.48,313.65 L244.20,313.59 L244.92,313.54 L245.64,313.49 L246.36,313.44 L247.08,313.39 L247.80,313.34 L248.52,313.29 L249.24,313.24 L249.96,313.20 L250.68,313.15 L251.40,313.10 L252.12,313.05 L252.84,313.01 L253.56,312.96 L254.28,312.92 L255.00,312.87 L255.72,312.82 L256.43,312.78 L257.15,312.74 L257.87,312.69 L258.59,312.65 L259.31,312.60 L260.03,312.56 L260.75,312.52 L261.47,312.48 L262.19,312.44 L262.91,312.39 L263.63,312.35 L264.35,312.31 L265.07,312.27 L265.79,312.23 L266.51,312.19 L267.23,312.15 L267.95,312.11 L268.67,312.07 L269.39,312.03 L270.11,312.00 L270.82,311.96 L271.54,311.92 L272.26,311.88 L272.98,311.85 L273.70,311.81 L274.42,311.77 L275.14,311.74 L275.86,311.70 L276.58,311.66 L277.30,311.63 L278.02,311.59 L278.74,311.56 L279.46,311.52 L280.18,311.49 L280.90,311.45 L281.62,311.42 L282.34,311.39 L283.06,311.35 L283.78,311.32 L284.49,311.29 L285.21,311.25 L285.93,311.22 L286.65,311.19 L287.37,311.16 L288.09,311.13 L288.81,311.09 L289.53,311.06 L290.25,311.03 L290.97,311.00 L291.69,310.97 L292.41,310.94 L293.13,310.91 L293.85,310.88 L294.57,310.85 L295.29,310.82 L296.01,310.79 L296.73,310.76 L297.45,310.73 L298.17,310.70 L298.88,310.67 L299.60,310.64 L300.32,310.62 L301.04,310.59 L301.76,310.56 L302.48,310.53 L303.20,310.50 L303.92,310.48 L304.64,310.45 L305.36,310.42 L306.08,310.40 L306.80,310.37 L307.52,310.34 L308.24,310.32 L308.96,310.29 L309.68,310.26 L310.40,310.24 L311.12,310.21 L311.84,310.19 L312.56,310.16 L313.27,310.14 L313.99,310.11" fill="none" stroke="#1414f0" stroke-width="1.9" stroke-linejoin="round"/>
<path d="M93.06,507.57 L93.06,507.50 L93.06,507.44 L93.06,507.38 L93.06,507.31 L93.06,507.25 L93.06,507.18 L93.06,507.11 L93.06,507.05 L93.06,506.98 L93.06,506.91 L93.06,506.84 L93.06,506.77 L93.06,506.70 L93.06,506.63 L93.06,506.56 L93.06,506.49 L93.06,506.42 L93.06,506.35 L93.06,506.27 L93.06,506.20 L93.06,506.12 L93.06,506.05 L93.06,505.97 L93.06,505.89 L93.06,505.82 L93.06,505.74 L93.06,505.66 L93.06,505.58 L93.06,505.50 L93.06,505.42 L93.06,505.33 L93.06,505.25 L93.06,505.17 L93.06,505.08 L93.06,505.00 L93.06,504.91 L93.06,504.83 L93.06,504.74 L93.06,504.65 L93.06,504.56 L93.06,504.47 L93.06,504.38 L93.06,504.29 L93.06,504.20 L93.06,504.11 L93.06,504.01 L93.06,503.92 L93.06,503.82 L93.06,503.73 L93.06,503.63 L93.06,503.53 L93.06,503.43 L93.06,503.33 L93.06,503.23 L93.06,503.13 L93.06,503.03 L93.06,502.93 L93.06,502.82 L93.06,502.72 L93.06,502.61 L93.06,502.51 L93.06,502.40 L93.06,502.29 L93.06,502.18 L93.06,502.07 L93.06,501.96 L93.06,501.84 L93.06,501.73 L93.06,501.62 L93.06,501.50 L93.06,501.38 L93.06,501.26 L93.06,501.15 L93.06,501.03 L93.06,500.90 L93.06,500.78 L93.06,500.66 L93.06,500.54 L93.06,500.41 L93.06,500.28 L93.06,500.16 L93.06,500.03 L93.06,499.90 L93.06,499.77 L93.06,499.63 L93.06,499.50 L93.06,499.37 L93.06,499.23 L93.06,499.09 L93.06,498.96 L93.06,498.82 L93.06,498.68 L93.06,498.53 L93.06,498.39 L93.06,498.25 L93.06,498.10 L93.06,497.95 L93.06,497.81 L93.06,497.66 L93.06,497.51 L93.06,497.35 L93.06,497.20 L93.06,497.04 L93.06,496.89 L93.06,496.73 L93.06,496.57 L93.06,496.41 L93.06,496.25 L93.06,496.09 L93.06,495.92 L93.06,495.75 L93.06,495.59 L93.06,495.42 L93.06,495.25 L93.06,495.07 L93.06,494.90 L93.06,494.72 L93.06,494.55 L93.06,494.37 L93.06,494.19 L93.06,494.01 L93.06,493.82 L93.06,493.64 L93.06,493.45 L93.06,493.26 L93.06,493.07 L93.06,492.88 L93.06,492.69 L93.06,492.49 L93.06,492.30 L93.06,492.10 L93.06,491.90 L93.06,491.70 L93.06,491.49 L93.06,491.29 L93.06,491.08 L93.06,490.87 L93.06,490.66 L93.06,490.45 L93.07,490.23 L93.07,490.01 L93.07,489.80 L93.07,489.57 L93.07,489.35 L93.07,489.13 L93.07,488.90 L93.07,488.67 L93.07,488.44 L93.07,488.21 L93.07,487.97 L93.07,487.74 L93.07,487.50 L93.07,487.26 L93.07,487.01 L93.07,486.77 L93.07,486.52 L93.07,486.27 L93.08,486.02 L93.08,485.76 L93.08,485.51 L93.08,485.25 L93.08,484.99 L93.08,484.72 L93.08,484.46 L93.08,484.19 L93.08,483.92 L93.08,483.65 L93.09,483.37 L93.09,483.09 L93.09,482.81 L93.09,482.53 L93.09,482.25 L93.09,481.96 L93.09,481.67 L93.10,481.37 L93.10,481.08 L93.10,480.78 L93.10,480.48 L93.10,480.18 L93.10,479.87 L93.11,479.56 L93.11,479.25 L93.11,478.94 L93.11,478.62 L93.11,478.30 L93.12,477.98 L93.12,477.65 L93.12,477.32 L93.13,476.99 L93.13,476.66 L93.13,476.32 L93.13,475.98 L93.14,475.63 L93.14,475.29 L93.14,474.94 L93.15,474.58 L93.15,474.23 L93.16,473.87 L93.16,473.51 L93.16,473.14 L93.17,472.77 L93.17,472.40 L93.18,472.03 L93.18,471.65 L93.19,471.27 L93.19,470.88 L93.20,470.49 L93.21,470.10 L93.21,469.70 L93.22,469.31 L93.22,468.90 L93.23,468.50 L93.24,468.09 L93.25,467.67 L93.25,467.26 L93.26,466.83 L93.27,466.41 L93.28,465.98 L93.29,465.55 L93.30,465.11 L93.31,464.67 L93.32,464.23 L93.33,463.78 L93.34,463.33 L93.35,462.87 L93.36,462.41 L93.38,461.95 L93.39,461.48 L93.40,461.01 L93.42,460.53 L93.43,460.05 L93.45,459.57 L93.46,459.08 L93.48,458.59 L93.50,458.09 L93.52,457.58 L93.54,457.08 L93.56,456.57 L93.58,456.05 L93.60,455.53 L93.62,455.01 L93.64,454.48 L93.67,453.94 L93.69,453.40 L93.72,452.86 L93.75,452.31 L93.77,451.76 L93.80,451.20 L93.83,450.63 L93.87,450.06 L93.90,449.49 L93.93,448.91 L93.97,448.33 L94.01,447.74 L94.05,447.14 L94.09,446.55 L94.13,445.94 L94.17,445.33 L94.22,444.71 L94.27,444.09 L94.32,443.47 L94.37,442.83 L94.42,442.20 L94.48,441.55 L94.54,440.90 L94.60,440.25 L94.66,439.59 L94.73,438.92 L94.79,438.25 L94.87,437.57 L94.94,436.89 L95.02,436.20 L95.10,435.50 L95.18,434.80 L95.27,434.09 L95.36,433.37 L95.45,432.65 L95.55,431.92 L95.66,431.19 L95.76,430.44 L95.87,429.70 L95.99,428.94 L96.11,428.18 L96.23,427.41 L96.37,426.64 L96.50,425.86 L96.64,425.07 L96.79,424.27 L96.94,423.47 L97.10,422.66 L97.27,421.84 L97.44,421.02 L97.62,420.19 L97.81,419.35 L98.00,418.50 L98.21,417.65 L98.42,416.79 L98.64,415.92 L98.87,415.04 L99.59,412.45 L100.31,410.07 L101.03,407.87 L101.74,405.83 L102.46,403.91 L103.18,402.10 L103.90,400.38 L104.62,398.76 L105.34,397.21 L106.06,395.73 L106.78,394.32 L107.50,392.96 L108.22,391.65 L108.94,390.39 L109.66,389.17 L110.38,388.00 L111.10,386.86 L111.82,385.75 L112.54,384.68 L113.26,383.64 L113.98,382.63 L114.70,381.65 L115.41,380.69 L116.13,379.75 L116.85,378.84 L117.57,377.94 L118.29,377.07 L119.01,376.22 L119.73,375.38 L120.45,374.57 L121.17,373.76 L121.89,372.98 L122.61,372.21 L123.33,371.45 L124.05,370.71 L124.77,369.98 L125.49,369.27 L126.21,368.57 L126.93,367.88 L127.65,367.20 L128.37,366.53 L129.09,365.87 L129.80,365.22 L130.52,364.58 L131.24,363.95 L131.96,363.33 L132.68,362.72 L133.40,362.12 L134.12,361.52 L134.84,360.94 L135.56,360.36 L136.28,359.79 L137.00,359.23 L137.72,358.67 L138.44,358.12 L139.16,357.58 L139.88,357.04 L140.60,356.51 L141.32,355.99 L142.04,355.47 L142.76,354.96 L143.48,354.46 L144.19,353.96 L144.91,353.46 L145.63,352.97 L146.35,352.49 L147.07,352.01 L147.79,351.54 L148.51,351.07 L149.23,350.60 L149.95,350.14 L150.67,349.69 L151.39,349.24 L152.11,348.79 L152.83,348.35 L153.55,347.91 L154.27,347.48 L154.99,347.05 L155.71,346.62 L156.43,346.20 L157.15,345.78 L157.86,345.36 L158.58,344.95 L159.30,344.55 L160.02,344.14 L160.74,343.74 L161.46,343.34 L162.18,342.95 L162.90,342.56 L163.62,342.17 L164.34,341.78 L165.06,341.40 L165.78,341.02 L166.50,340.64 L167.22,340.27 L167.94,339.90 L168.66,339.53 L169.38,339.17 L170.10,338.80 L170.82,338.45 L171.54,338.09 L172.25,337.73 L172.97,337.38 L173.69,337.03 L174.41,336.68 L175.13,336.34 L175.85,336.00 L176.57,335.66 L177.29,335.32 L178.01,334.98 L178.73,334.65 L179.45,334.32 L180.17,333.99 L180.89,333.66 L181.61,333.34 L182.33,333.01 L183.05,332.69 L183.77,332.37 L184.49,332.06 L185.21,331.74 L185.92,331.43 L186.64,331.12 L187.36,330.81 L188.08,330.50 L188.80,330.20 L189.52,329.89 L190.24,329.59 L190.96,329.29 L191.68,328.99 L192.40,328.69 L193.12,328.40 L193.84,328.10 L194.56,327.81 L195.28,327.52 L196.00,327.23 L196.72,326.95 L197.44,326.66 L198.16,326.38 L198.88,326.09 L199.60,325.81 L200.31,325.53 L201.03,325.25 L201.75,324.98 L202.47,324.70 L203.19,324.43 L203.91,324.16 L204.63,323.88 L205.35,323.61 L206.07,323.35 L206.79,323.08 L207.51,322.81 L208.23,322.55 L208.95,322.29 L209.67,322.02 L210.39,321.76 L211.11,321.50 L211.83,321.24 L212.55,320.99 L213.27,320.73 L213.98,320.48 L214.70,320.22 L215.42,319.97 L216.14,319.72 L216.86,319.47 L217.58,319.22 L218.30,318.97 L219.02,318.73 L219.74,318.48 L220.46,318.24 L221.18,317.99 L221.90,317.75 L222.62,317.51 L223.34,317.27 L224.06,317.03 L224.78,316.79 L225.50,316.56 L226.22,316.32 L226.94,316.08 L227.66,315.85 L228.37,315.62 L229.09,315.38 L229.81,315.15 L230.53,314.92 L231.25,314.69 L231.97,314.47 L232.69,314.24 L233.41,314.01 L234.13,313.79 L234.85,313.56 L235.57,313.34 L236.29,313.11 L237.01,312.89 L237.73,312.67 L238.45,312.45 L239.17,312.23 L239.89,312.01 L240.61,311.79 L241.33,311.58 L242.05,311.36 L242.76,311.14 L243.48,310.93 L244.20,310.72 L244.92,310.50 L245.64,310.29 L246.36,310.08 L247.08,309.87 L247.80,309.66 L248.52,309.45 L249.24,309.24 L249.96,309.03 L250.68,308.83 L251.40,308.62 L252.12,308.41 L252.84,308.21 L253.56,308.01 L254.28,307.80 L255.00,307.60 L255.72,307.40 L256.43,307.20 L257.15,307.00 L257.87,306.80 L258.59,306.60 L259.31,306.40 L260.03,306.20 L260.75,306.00 L261.47,305.81 L262.19,305.61 L262.91,305.42 L263.63,305.22 L264.35,305.03 L265.07,304.83 L265.79,304.64 L266.51,304.45 L267.23,304.26 L267.95,304.07 L268.67,303.88 L269.39,303.69 L270.11,303.50 L270.82,303.31 L271.54,303.12 L272.26,302.93 L272.98,302.75 L273.70,302.56 L274.42,302.38 L275.14,302.19 L275.86,302.01 L276.58,301.82 L277.30,301.64 L278.02,301.46 L278.74,301.28 L279.46,301.09 L280.18,300.91 L280.90,300.73 L281.62,300.55 L282.34,300.37 L283.06,300.19 L283.78,300.02 L284.49,299.84 L285.21,299.66 L285.93,299.48 L286.65,299.31 L287.37,299.13 L288.09,298.96 L288.81,298.78 L289.53,298.61 L290.25,298.43 L290.97,298.26 L291.69,298.09 L292.41,297.92 L293.13,297.74 L293.85,297.57 L294.57,297.40 L295.29,297.23 L296.01,297.06 L296.73,296.89 L297.45,296.72 L298.17,296.56 L298.88,296.39 L299.60,296.22 L300.32,296.05 L301.04,295.89 L301.76,295.72 L302.48,295.55 L303.20,295.39 L303.92,295.22 L304.64,295.06 L305.36,294.90 L306.08,294.73 L306.80,294.57 L307.52,294.41 L308.24,294.24 L308.96,294.08 L309.68,293.92 L310.40,293.76 L311.12,293.60 L311.84,293.44 L312.56,293.28 L313.27,293.12 L313.99,292.96" fill="none" stroke="#ff1493" stroke-width="2" stroke-dasharray="3.8 2.95"/>
<path d="M93.06,513.83 L93.06,513.81 L93.06,513.79 L93.06,513.76 L93.06,513.74 L93.06,513.72 L93.06,513.69 L93.06,513.67 L93.06,513.64 L93.06,513.61 L93.06,513.59 L93.06,513.56 L93.06,513.53 L93.06,513.50 L93.06,513.47 L93.06,513.44 L93.06,513.41 L93.06,513.38 L93.06,513.34 L93.06,513.31 L93.06,513.27 L93.06,513.24 L93.06,513.20 L93.06,513.16 L93.06,513.13 L93.06,513.09 L93.06,513.05 L93.06,513.00 L93.06,512.96 L93.06,512.92 L93.06,512.87 L93.06,512.83 L93.06,512.78 L93.06,512.73 L93.06,512.68 L93.06,512.63 L93.06,512.58 L93.06,512.53 L93.06,512.48 L93.06,512.42 L93.06,512.37 L93.06,512.31 L93.06,512.25 L93.06,512.19 L93.06,512.13 L93.06,512.06 L93.06,512.00 L93.06,511.93 L93.06,511.86 L93.06,511.79 L93.06,511.72 L93.06,511.65 L93.06,511.57 L93.06,511.50 L93.06,511.42 L93.06,511.34 L93.06,511.26 L93.06,511.18 L93.06,511.09 L93.06,511.00 L93.06,510.92 L93.06,510.82 L93.06,510.73 L93.07,510.64 L93.07,510.54 L93.07,510.44 L93.07,510.34 L93.07,510.24 L93.07,510.13 L93.07,510.02 L93.07,509.91 L93.07,509.80 L93.07,509.69 L93.07,509.57 L93.07,509.45 L93.07,509.33 L93.07,509.20 L93.07,509.08 L93.07,508.95 L93.07,508.82 L93.07,508.68 L93.07,508.54 L93.07,508.40 L93.07,508.26 L93.07,508.12 L93.07,507.97 L93.07,507.82 L93.07,507.66 L93.07,507.51 L93.08,507.35 L93.08,507.18 L93.08,507.02 L93.08,506.85 L93.08,506.68 L93.08,506.50 L93.08,506.32 L93.08,506.14 L93.08,505.96 L93.08,505.77 L93.08,505.58 L93.08,505.39 L93.08,505.19 L93.08,504.99 L93.08,504.79 L93.08,504.58 L93.09,504.37 L93.09,504.15 L93.09,503.94 L93.09,503.72 L93.09,503.49 L93.09,503.26 L93.09,503.03 L93.09,502.80 L93.09,502.56 L93.09,502.32 L93.10,502.07 L93.10,501.83 L93.10,501.57 L93.10,501.32 L93.10,501.06 L93.10,500.80 L93.10,500.53 L93.10,500.26 L93.10,499.99 L93.11,499.71 L93.11,499.43 L93.11,499.14 L93.11,498.86 L93.11,498.56 L93.11,498.27 L93.11,497.97 L93.12,497.67 L93.12,497.36 L93.12,497.05 L93.12,496.74 L93.12,496.43 L93.13,496.11 L93.13,495.78 L93.13,495.46 L93.13,495.13 L93.13,494.79 L93.14,494.46 L93.14,494.12 L93.14,493.78 L93.14,493.43 L93.14,493.08 L93.15,492.73 L93.15,492.37 L93.15,492.01 L93.15,491.65 L93.16,491.28 L93.16,490.91 L93.16,490.54 L93.17,490.17 L93.17,489.79 L93.17,489.41 L93.18,489.02 L93.18,488.64 L93.18,488.25 L93.19,487.86 L93.19,487.46 L93.19,487.06 L93.20,486.66 L93.20,486.26 L93.20,485.85 L93.21,485.44 L93.21,485.03 L93.22,484.62 L93.22,484.20 L93.23,483.78 L93.23,483.36 L93.24,482.94 L93.24,482.51 L93.25,482.09 L93.25,481.66 L93.26,481.22 L93.26,480.79 L93.27,480.35 L93.27,479.91 L93.28,479.47 L93.29,479.03 L93.29,478.58 L93.30,478.14 L93.31,477.69 L93.31,477.24 L93.32,476.78 L93.33,476.33 L93.33,475.87 L93.34,475.42 L93.35,474.96 L93.36,474.49 L93.37,474.03 L93.37,473.57 L93.38,473.10 L93.39,472.63 L93.40,472.16 L93.41,471.69 L93.42,471.22 L93.43,470.74 L93.44,470.27 L93.45,469.79 L93.46,469.31 L93.47,468.83 L93.49,468.35 L93.50,467.87 L93.51,467.38 L93.52,466.90 L93.53,466.41 L93.55,465.92 L93.56,465.44 L93.58,464.94 L93.59,464.45 L93.60,463.96 L93.62,463.47 L93.63,462.97 L93.65,462.47 L93.67,461.97 L93.68,461.48 L93.70,460.98 L93.72,460.47 L93.74,459.97 L93.76,459.47 L93.78,458.96 L93.79,458.45 L93.82,457.95 L93.84,457.44 L93.86,456.93 L93.88,456.42 L93.90,455.90 L93.93,455.39 L93.95,454.88 L93.97,454.36 L94.00,453.84 L94.03,453.32 L94.05,452.80 L94.08,452.28 L94.11,451.76 L94.14,451.24 L94.17,450.71 L94.20,450.19 L94.23,449.66 L94.26,449.13 L94.29,448.60 L94.33,448.07 L94.36,447.54 L94.40,447.00 L94.44,446.47 L94.47,445.93 L94.51,445.39 L94.55,444.85 L94.59,444.31 L94.64,443.77 L94.68,443.23 L94.72,442.68 L94.77,442.14 L94.82,441.59 L94.87,441.04 L94.92,440.49 L94.97,439.93 L95.02,439.38 L95.07,438.82 L95.13,438.27 L95.19,437.71 L95.24,437.15 L95.30,436.58 L95.37,436.02 L95.43,435.45 L95.49,434.89 L95.56,434.32 L95.63,433.74 L95.70,433.17 L95.77,432.60 L95.85,432.02 L95.93,431.44 L96.00,430.86 L96.09,430.28 L96.17,429.69 L96.25,429.11 L96.34,428.52 L96.43,427.93 L96.53,427.33 L96.62,426.74 L96.72,426.14 L96.82,425.54 L96.92,424.94 L97.03,424.34 L97.14,423.73 L97.25,423.13 L97.37,422.52 L97.49,421.90 L97.61,421.29 L97.73,420.67 L97.86,420.05 L97.99,419.43 L98.13,418.81 L98.27,418.18 L98.41,417.55 L98.56,416.92 L98.71,416.29 L98.87,415.65 L99.59,412.88 L100.31,410.36 L101.03,408.04 L101.74,405.89 L102.46,403.89 L103.18,402.00 L103.90,400.23 L104.62,398.55 L105.34,396.96 L106.06,395.44 L106.78,393.99 L107.50,392.61 L108.22,391.27 L108.94,389.99 L109.66,388.76 L110.38,387.57 L111.10,386.41 L111.82,385.30 L112.54,384.22 L113.26,383.17 L113.98,382.15 L114.70,381.16 L115.41,380.20 L116.13,379.26 L116.85,378.35 L117.57,377.45 L118.29,376.58 L119.01,375.73 L119.73,374.90 L120.45,374.08 L121.17,373.28 L121.89,372.50 L122.61,371.74 L123.33,370.99 L124.05,370.25 L124.77,369.53 L125.49,368.82 L126.21,368.12 L126.93,367.44 L127.65,366.76 L128.37,366.10 L129.09,365.45 L129.80,364.81 L130.52,364.18 L131.24,363.56 L131.96,362.95 L132.68,362.35 L133.40,361.75 L134.12,361.17 L134.84,360.59 L135.56,360.02 L136.28,359.46 L137.00,358.91 L137.72,358.36 L138.44,357.82 L139.16,357.29 L139.88,356.76 L140.60,356.24 L141.32,355.73 L142.04,355.22 L142.76,354.72 L143.48,354.22 L144.19,353.73 L144.91,353.25 L145.63,352.77 L146.35,352.30 L147.07,351.83 L147.79,351.37 L148.51,350.91 L149.23,350.45 L149.95,350.00 L150.67,349.56 L151.39,349.12 L152.11,348.68 L152.83,348.25 L153.55,347.82 L154.27,347.40 L154.99,346.98 L155.71,346.56 L156.43,346.15 L157.15,345.74 L157.86,345.34 L158.58,344.94 L159.30,344.54 L160.02,344.15 L160.74,343.76 L161.46,343.37 L162.18,342.99 L162.90,342.60 L163.62,342.23 L164.34,341.85 L165.06,341.48 L165.78,341.11 L166.50,340.75 L167.22,340.38 L167.94,340.02 L168.66,339.67 L169.38,339.31 L170.10,338.96 L170.82,338.61 L171.54,338.26 L172.25,337.92 L172.97,337.58 L173.69,337.24 L174.41,336.90 L175.13,336.57 L175.85,336.23 L176.57,335.90 L177.29,335.58 L178.01,335.25 L178.73,334.93 L179.45,334.61 L180.17,334.29 L180.89,333.97 L181.61,333.66 L182.33,333.34 L183.05,333.03 L183.77,332.72 L184.49,332.42 L185.21,332.11 L185.92,331.81 L186.64,331.51 L187.36,331.21 L188.08,330.91 L188.80,330.62 L189.52,330.32 L190.24,330.03 L190.96,329.74 L191.68,329.45 L192.40,329.16 L193.12,328.88 L193.84,328.59 L194.56,328.31 L195.28,328.03 L196.00,327.75 L196.72,327.47 L197.44,327.20 L198.16,326.92 L198.88,326.65 L199.60,326.38 L200.31,326.11 L201.03,325.84 L201.75,325.57 L202.47,325.31 L203.19,325.04 L203.91,324.78 L204.63,324.52 L205.35,324.26 L206.07,324.00 L206.79,323.74 L207.51,323.49 L208.23,323.23 L208.95,322.98 L209.67,322.73 L210.39,322.47 L211.11,322.22 L211.83,321.98 L212.55,321.73 L213.27,321.48 L213.98,321.24 L214.70,320.99 L215.42,320.75 L216.14,320.51 L216.86,320.27 L217.58,320.03 L218.30,319.79 L219.02,319.55 L219.74,319.32 L220.46,319.08 L221.18,318.85 L221.90,318.61 L222.62,318.38 L223.34,318.15 L224.06,317.92 L224.78,317.69 L225.50,317.46 L226.22,317.24 L226.94,317.01 L227.66,316.78 L228.37,316.56 L229.09,316.34 L229.81,316.11 L230.53,315.89 L231.25,315.67 L231.97,315.45 L232.69,315.23 L233.41,315.02 L234.13,314.80 L234.85,314.58 L235.57,314.37 L236.29,314.15 L237.01,313.94 L237.73,313.73 L238.45,313.52 L239.17,313.31 L239.89,313.10 L240.61,312.89 L241.33,312.68 L242.05,312.47 L242.76,312.26 L243.48,312.06 L244.20,311.85 L244.92,311.65 L245.64,311.44 L246.36,311.24 L247.08,311.04 L247.80,310.84 L248.52,310.64 L249.24,310.44 L249.96,310.24 L250.68,310.04 L251.40,309.84 L252.12,309.64 L252.84,309.45 L253.56,309.25 L254.28,309.06 L255.00,308.86 L255.72,308.67 L256.43,308.48 L257.15,308.28 L257.87,308.09 L258.59,307.90 L259.31,307.71 L260.03,307.52 L260.75,307.33 L261.47,307.15 L262.19,306.96 L262.91,306.77 L263.63,306.58 L264.35,306.40 L265.07,306.21 L265.79,306.03 L266.51,305.84 L267.23,305.66 L267.95,305.48 L268.67,305.30 L269.39,305.12 L270.11,304.93 L270.82,304.75 L271.54,304.57 L272.26,304.39 L272.98,304.22 L273.70,304.04 L274.42,303.86 L275.14,303.68 L275.86,303.51 L276.58,303.33 L277.30,303.16 L278.02,302.98 L278.74,302.81 L279.46,302.63 L280.18,302.46 L280.90,302.29 L281.62,302.12 L282.34,301.94 L283.06,301.77 L283.78,301.60 L284.49,301.43 L285.21,301.26 L285.93,301.09 L286.65,300.93 L287.37,300.76 L288.09,300.59 L288.81,300.42 L289.53,300.26 L290.25,300.09 L290.97,299.93 L291.69,299.76 L292.41,299.60 L293.13,299.43 L293.85,299.27 L294.57,299.10 L295.29,298.94 L296.01,298.78 L296.73,298.62 L297.45,298.46 L298.17,298.30 L298.88,298.13 L299.60,297.97 L300.32,297.82 L301.04,297.66 L301.76,297.50 L302.48,297.34 L303.20,297.18 L303.92,297.02 L304.64,296.87 L305.36,296.71 L306.08,296.55 L306.80,296.40 L307.52,296.24 L308.24,296.09 L308.96,295.93 L309.68,295.78 L310.40,295.63 L311.12,295.47 L311.84,295.32 L312.56,295.17 L313.27,295.01 L313.99,294.86" fill="none" stroke="#1f8a1f" stroke-width="2" stroke-dasharray="6.6 4.1 1.6 3.5 1.9 4"/>
<path d="M428.64,242.76 L429.05,236.84 L429.47,231.12 L429.88,225.60 L430.30,220.27 L430.71,215.13 L431.13,210.17 L431.54,205.38 L431.96,200.75 L432.37,196.28 L432.79,191.97 L433.20,187.81 L433.62,183.80 L434.03,179.92 L434.45,176.17 L434.86,172.56 L435.28,169.07 L435.69,165.71 L436.11,162.46 L436.52,159.32 L436.94,156.29 L437.35,153.37 L437.77,150.54 L438.18,147.82 L438.60,145.19 L439.01,142.65 L439.43,140.20 L439.84,137.84 L440.26,135.55 L440.67,133.35 L441.09,131.22 L441.50,129.16 L441.92,127.18 L442.33,125.27 L442.75,123.42 L443.16,121.64 L443.58,119.91 L443.99,118.25 L444.41,116.65 L444.82,115.10 L445.24,113.60 L445.65,112.16 L446.07,110.77 L446.48,109.42 L446.90,108.12 L447.31,106.87 L447.73,105.66 L448.14,104.49 L448.56,103.37 L448.97,102.28 L449.39,101.23 L449.80,100.21 L450.22,99.23 L450.63,98.29 L451.05,97.38 L451.46,96.50 L451.88,95.65 L452.29,94.83 L452.71,94.03 L453.12,93.27 L453.54,92.53 L453.95,91.82 L454.37,91.13 L454.78,90.47 L455.20,89.83 L455.61,89.21 L456.03,88.61 L456.44,88.03 L456.86,87.48 L457.27,86.94 L457.69,86.42 L458.10,85.92 L458.52,85.44 L458.93,84.97 L459.35,84.52 L459.76,84.08 L460.18,83.67 L460.59,83.26 L461.01,82.87 L461.42,82.49 L461.84,82.13 L462.25,81.78 L462.67,81.44 L463.08,81.11 L463.50,80.79 L463.91,80.49 L464.33,80.19 L464.74,79.91 L465.16,79.63 L465.57,79.37 L465.99,79.11 L466.40,78.86 L466.82,78.63 L467.23,78.39 L467.65,78.17 L468.06,77.96 L468.48,77.75 L468.89,77.55 L469.31,77.36 L469.72,77.17 L470.13,76.99 L470.55,76.82 L470.96,76.65 L471.38,76.49 L471.79,76.33 L472.21,76.18 L472.62,76.04 L473.04,75.90 L473.45,75.76 L473.87,75.63 L474.28,75.50 L474.70,75.38 L475.11,75.26 L475.53,75.15 L475.94,75.04 L476.36,74.93 L476.77,74.83 L477.19,74.73 L477.60,74.64 L478.02,74.54 L478.43,74.46 L478.85,74.37 L479.26,74.29 L479.68,74.21 L480.09,74.13 L480.51,74.06 L480.92,73.98 L481.34,73.91 L481.75,73.85 L482.17,73.78 L482.58,73.72 L483.00,73.66 L483.41,73.60 L483.83,73.55 L484.24,73.49 L484.66,73.44 L485.07,73.39 L485.49,73.34 L485.90,73.29 L486.32,73.25 L486.73,73.20 L487.15,73.16 L487.56,73.12 L487.98,73.08 L488.39,73.04 L488.81,73.01 L489.22,72.97 L489.64,72.94 L490.05,72.90 L490.47,72.87 L490.88,72.84 L491.30,72.81 L491.71,72.78 L492.13,72.76 L492.54,72.73 L492.96,72.70 L493.37,72.68 L493.79,72.65 L494.20,72.63 L494.62,72.61 L495.03,72.59 L495.45,72.57 L495.86,72.55 L496.28,72.53 L496.69,72.51 L497.11,72.49 L497.52,72.47 L497.94,72.45 L498.35,72.44 L498.77,72.42 L499.18,72.41 L499.60,72.39 L500.01,72.38 L500.43,72.36 L500.84,72.35 L501.26,72.34 L501.67,72.33 L502.09,72.31 L502.50,72.30 L502.92,72.29 L503.33,72.28 L503.75,72.27 L504.16,72.26 L504.58,72.25 L504.99,72.24 L505.41,72.23 L505.82,72.22 L506.24,72.22 L506.65,72.21 L507.07,72.20 L507.48,72.19 L507.90,72.19 L508.31,72.18 L508.73,72.17 L509.14,72.17 L509.56,72.16 L509.97,72.15 L510.39,72.15 L510.80,72.14 L511.22,72.14 L511.63,72.13 L512.04,72.13 L512.46,72.12 L512.87,72.12 L513.29,72.11 L513.70,72.11 L514.12,72.10 L514.53,72.10 L514.95,72.09 L515.36,72.09 L515.78,72.09 L516.19,72.08 L516.61,72.08 L517.02,72.08 L517.44,72.07 L517.85,72.07 L518.27,72.07 L518.68,72.06 L519.10,72.06 L519.51,72.06 L519.93,72.06 L520.34,72.05 L520.76,72.05 L521.17,72.05 L521.59,72.05 L522.00,72.04 L522.42,72.04 L522.83,72.04 L523.25,72.04 L523.66,72.04 L524.08,72.04 L524.49,72.03 L524.91,72.03 L525.32,72.03 L525.74,72.03 L526.15,72.03 L526.57,72.03 L526.98,72.02 L527.40,72.02 L527.81,72.02 L528.23,72.02 L528.64,72.02 L529.06,72.02 L529.47,72.02 L529.89,72.02 L530.30,72.01 L530.72,72.01 L531.13,72.01 L531.55,72.01 L531.96,72.01 L532.38,72.01 L532.79,72.01 L533.21,72.01 L533.62,72.01 L534.04,72.01 L534.45,72.01 L534.87,72.00 L535.28,72.00 L535.70,72.00 L536.11,72.00 L536.53,72.00 L536.94,72.00 L537.36,72.00 L537.77,72.00 L538.19,72.00 L538.60,72.00 L539.02,72.00 L539.43,72.00 L539.85,72.00 L540.26,72.00 L540.68,72.00 L541.09,72.00 L541.51,72.00 L541.92,72.00 L542.34,71.99 L542.75,71.99 L543.17,71.99 L543.58,71.99 L544.00,71.99 L544.41,71.99 L544.83,71.99 L545.24,71.99 L545.66,71.99 L546.07,71.99 L546.49,71.99 L546.90,71.99 L547.32,71.99 L547.73,71.99 L548.15,71.99 L548.56,71.99 L548.98,71.99 L549.39,71.99 L549.81,71.99 L550.22,71.99 L550.64,71.99 L551.05,71.99 L551.47,71.99 L551.88,71.99 L552.30,71.99 L552.71,71.99 L553.12,71.99 L553.54,71.99 L553.95,71.99 L554.37,71.99 L554.78,71.99 L555.20,71.99 L555.61,71.99 L556.03,71.99 L556.44,71.99 L556.86,71.99 L557.27,71.99 L557.69,71.99 L558.10,71.99 L558.52,71.99 L558.93,71.99 L559.35,71.99 L559.76,71.99 L560.18,71.99 L560.59,71.99 L561.01,71.99 L561.42,71.99 L561.84,71.99 L562.25,71.99 L562.67,71.99 L563.08,71.99 L563.50,71.99 L563.91,71.99 L564.33,71.99 L564.74,71.99 L565.16,71.99 L565.57,71.99 L565.99,71.99 L566.40,71.99 L566.82,71.99 L567.23,71.99 L567.65,71.99 L568.06,71.99 L568.48,71.99 L568.89,71.99 L569.31,71.99 L569.72,71.99 L570.14,71.99 L570.55,71.99 L570.97,71.99 L571.38,71.99 L571.80,71.99 L572.21,71.99 L572.63,71.98 L573.04,71.98 L573.46,71.98 L573.87,71.98 L574.29,71.98 L574.70,71.98 L575.12,71.98 L575.53,71.98 L575.95,71.98 L576.36,71.98 L576.78,71.98 L577.19,71.98 L577.61,71.98 L578.02,71.98 L578.44,71.98 L578.85,71.98 L579.27,71.98 L579.68,71.98 L580.10,71.98 L580.51,71.98 L580.93,71.98 L581.34,71.98 L581.76,71.98 L582.17,71.98 L582.59,71.98 L583.00,71.98 L583.42,71.98 L583.83,71.98 L584.25,71.98 L584.66,71.98 L585.08,71.98 L585.49,71.98 L585.91,71.98 L586.32,71.98 L586.74,71.98 L587.15,71.98 L587.57,71.98 L587.98,71.98 L588.40,71.98 L588.81,71.98 L589.23,71.98 L589.64,71.98 L590.06,71.98 L590.47,71.98 L590.89,71.98 L591.30,71.98 L591.72,71.98 L592.13,71.98 L592.55,71.98 L592.96,71.98 L593.38,71.98 L593.79,71.98 L594.21,71.98 L594.62,71.98 L595.03,71.98 L595.45,71.98 L595.86,71.98 L596.28,71.98 L596.69,71.98 L597.11,71.98 L597.52,71.98 L597.94,71.98 L598.35,71.98 L598.77,71.98 L599.18,71.98 L599.60,71.98 L600.01,71.98 L600.43,71.98 L600.84,71.98 L601.26,71.98 L601.67,71.98 L602.09,71.98 L602.50,71.98 L602.92,71.98 L603.33,71.98 L603.75,71.98 L604.16,71.98 L604.58,71.98 L604.99,71.98 L605.41,71.98 L605.82,71.98 L606.24,71.98 L606.65,71.98 L607.07,71.98 L607.48,71.98 L607.90,71.98 L608.31,71.98 L608.73,71.98 L609.14,71.98 L609.56,71.98 L609.97,71.98 L610.39,71.98 L610.80,71.98 L611.22,71.98 L611.63,71.98 L612.05,71.98 L612.46,71.98 L612.88,71.98 L613.29,71.98 L613.71,71.98 L614.12,71.98 L614.54,71.98 L614.95,71.98 L615.37,71.98 L615.78,71.98 L616.20,71.98 L616.61,71.98 L617.03,71.98 L617.44,71.98 L617.86,71.98 L618.27,71.98 L618.69,71.98 L619.10,71.98 L619.52,71.98 L619.93,71.98 L620.35,71.98 L620.76,71.98 L621.18,71.98 L621.59,71.98 L622.01,71.98 L622.42,71.98 L622.84,71.98 L623.25,71.98 L623.67,71.98 L624.08,71.98 L624.50,71.98 L624.91,71.98 L625.33,71.98 L625.74,71.98 L626.16,71.98 L626.57,71.98 L626.99,71.98 L627.40,71.98 L627.82,71.98 L628.23,71.98 L628.65,71.98 L629.06,71.98 L629.48,71.98 L629.89,71.98 L630.31,71.98 L630.72,71.98 L631.14,71.98 L631.55,71.98 L631.97,71.98 L632.38,71.98 L632.80,71.98 L633.21,71.98 L633.63,71.98 L634.04,71.98 L634.46,71.98 L634.87,71.98 L635.29,71.98 L635.70,71.98" fill="none" stroke="#1414f0" stroke-width="1.9" stroke-linejoin="round"/>
<path d="M428.64,234.32 L429.05,227.47 L429.47,221.11 L429.88,215.19 L430.30,209.67 L430.71,204.50 L431.13,199.67 L431.54,195.13 L431.96,190.85 L432.37,186.83 L432.79,183.03 L433.20,179.43 L433.62,176.03 L434.03,172.80 L434.45,169.74 L434.86,166.82 L435.28,164.05 L435.69,161.40 L436.11,158.88 L436.52,156.46 L436.94,154.16 L437.35,151.95 L437.77,149.84 L438.18,147.81 L438.60,145.86 L439.01,143.99 L439.43,142.19 L439.84,140.46 L440.26,138.80 L440.67,137.19 L441.09,135.65 L441.50,134.16 L441.92,132.71 L442.33,131.32 L442.75,129.98 L443.16,128.68 L443.58,127.42 L443.99,126.20 L444.41,125.02 L444.82,123.88 L445.24,122.77 L445.65,121.69 L446.07,120.65 L446.48,119.63 L446.90,118.65 L447.31,117.69 L447.73,116.76 L448.14,115.86 L448.56,114.98 L448.97,114.12 L449.39,113.29 L449.80,112.48 L450.22,111.69 L450.63,110.92 L451.05,110.16 L451.46,109.43 L451.88,108.72 L452.29,108.02 L452.71,107.34 L453.12,106.67 L453.54,106.02 L453.95,105.39 L454.37,104.77 L454.78,104.16 L455.20,103.57 L455.61,102.99 L456.03,102.42 L456.44,101.87 L456.86,101.32 L457.27,100.79 L457.69,100.27 L458.10,99.76 L458.52,99.26 L458.93,98.77 L459.35,98.29 L459.76,97.82 L460.18,97.36 L460.59,96.91 L461.01,96.47 L461.42,96.04 L461.84,95.61 L462.25,95.19 L462.67,94.78 L463.08,94.38 L463.50,93.98 L463.91,93.59 L464.33,93.21 L464.74,92.84 L465.16,92.47 L465.57,92.11 L465.99,91.75 L466.40,91.40 L466.82,91.06 L467.23,90.72 L467.65,90.39 L468.06,90.06 L468.48,89.74 L468.89,89.43 L469.31,89.12 L469.72,88.81 L470.13,88.51 L470.55,88.21 L470.96,87.92 L471.38,87.63 L471.79,87.35 L472.21,87.07 L472.62,86.80 L473.04,86.53 L473.45,86.26 L473.87,86.00 L474.28,85.74 L474.70,85.49 L475.11,85.24 L475.53,84.99 L475.94,84.75 L476.36,84.51 L476.77,84.27 L477.19,84.04 L477.60,83.81 L478.02,83.58 L478.43,83.36 L478.85,83.14 L479.26,82.92 L479.68,82.71 L480.09,82.49 L480.51,82.28 L480.92,82.08 L481.34,81.87 L481.75,81.67 L482.17,81.47 L482.58,81.28 L483.00,81.09 L483.41,80.89 L483.83,80.71 L484.24,80.52 L484.66,80.34 L485.07,80.15 L485.49,79.98 L485.90,79.80 L486.32,79.62 L486.73,79.45 L487.15,79.28 L487.56,79.11 L487.98,78.94 L488.39,78.78 L488.81,78.62 L489.22,78.46 L489.64,78.30 L490.05,78.14 L490.47,77.98 L490.88,77.83 L491.30,77.68 L491.71,77.53 L492.13,77.38 L492.54,77.23 L492.96,77.09 L493.37,76.94 L493.79,76.80 L494.20,76.66 L494.62,76.52 L495.03,76.38 L495.45,76.25 L495.86,76.11 L496.28,75.98 L496.69,75.85 L497.11,75.72 L497.52,75.59 L497.94,75.46 L498.35,75.33 L498.77,75.21 L499.18,75.09 L499.60,74.96 L500.01,74.84 L500.43,74.72 L500.84,74.60 L501.26,74.49 L501.67,74.37 L502.09,74.25 L502.50,74.14 L502.92,74.03 L503.33,73.91 L503.75,73.80 L504.16,73.69 L504.58,73.58 L504.99,73.48 L505.41,73.37 L505.82,73.26 L506.24,73.16 L506.65,73.05 L507.07,72.95 L507.48,72.85 L507.90,72.75 L508.31,72.65 L508.73,72.55 L509.14,72.45 L509.56,72.35 L509.97,72.26 L510.39,72.16 L510.80,72.07 L511.22,71.97 L511.63,71.88 L512.04,71.79 L512.46,71.70 L512.87,71.61 L513.29,71.52 L513.70,71.43 L514.12,71.34 L514.53,71.25 L514.95,71.17 L515.36,71.08 L515.78,70.99 L516.19,70.91 L516.61,70.83 L517.02,70.74 L517.44,70.66 L517.85,70.58 L518.27,70.50 L518.68,70.42 L519.10,70.34 L519.51,70.26 L519.93,70.18 L520.34,70.10 L520.76,70.02 L521.17,69.95 L521.59,69.87 L522.00,69.80 L522.42,69.72 L522.83,69.65 L523.25,69.57 L523.66,69.50 L524.08,69.43 L524.49,69.36 L524.91,69.29 L525.32,69.21 L525.74,69.14 L526.15,69.07 L526.57,69.01 L526.98,68.94 L527.40,68.87 L527.81,68.80 L528.23,68.73 L528.64,68.67 L529.06,68.60 L529.47,68.54 L529.89,68.47 L530.30,68.41 L530.72,68.34 L531.13,68.28 L531.55,68.21 L531.96,68.15 L532.38,68.09 L532.79,68.03 L533.21,67.97 L533.62,67.91 L534.04,67.84 L534.45,67.78 L534.87,67.73 L535.28,67.67 L535.70,67.61 L536.11,67.55 L536.53,67.49 L536.94,67.43 L537.36,67.38 L537.77,67.32 L538.19,67.26 L538.60,67.21 L539.02,67.15 L539.43,67.10 L539.85,67.04 L540.26,66.99 L540.68,66.93 L541.09,66.88 L541.51,66.82 L541.92,66.77 L542.34,66.72 L542.75,66.67 L543.17,66.61 L543.58,66.56 L544.00,66.51 L544.41,66.46 L544.83,66.41 L545.24,66.36 L545.66,66.31 L546.07,66.26 L546.49,66.21 L546.90,66.16 L547.32,66.11 L547.73,66.06 L548.15,66.02 L548.56,65.97 L548.98,65.92 L549.39,65.87 L549.81,65.83 L550.22,65.78 L550.64,65.73 L551.05,65.69 L551.47,65.64 L551.88,65.60 L552.30,65.55 L552.71,65.51 L553.12,65.46 L553.54,65.42 L553.95,65.37 L554.37,65.33 L554.78,65.29 L555.20,65.24 L555.61,65.20 L556.03,65.16 L556.44,65.11 L556.86,65.07 L557.27,65.03 L557.69,64.99 L558.10,64.95 L558.52,64.91 L558.93,64.86 L559.35,64.82 L559.76,64.78 L560.18,64.74 L560.59,64.70 L561.01,64.66 L561.42,64.62 L561.84,64.58 L562.25,64.55 L562.67,64.51 L563.08,64.47 L563.50,64.43 L563.91,64.39 L564.33,64.35 L564.74,64.32 L565.16,64.28 L565.57,64.24 L565.99,64.20 L566.40,64.17 L566.82,64.13 L567.23,64.09 L567.65,64.06 L568.06,64.02 L568.48,63.98 L568.89,63.95 L569.31,63.91 L569.72,63.88 L570.14,63.84 L570.55,63.81 L570.97,63.77 L571.38,63.74 L571.80,63.70 L572.21,63.67 L572.63,63.63 L573.04,63.60 L573.46,63.57 L573.87,63.53 L574.29,63.50 L574.70,63.47 L575.12,63.43 L575.53,63.40 L575.95,63.37 L576.36,63.34 L576.78,63.30 L577.19,63.27 L577.61,63.24 L578.02,63.21 L578.44,63.18 L578.85,63.15 L579.27,63.11 L579.68,63.08 L580.10,63.05 L580.51,63.02 L580.93,62.99 L581.34,62.96 L581.76,62.93 L582.17,62.90 L582.59,62.87 L583.00,62.84 L583.42,62.81 L583.83,62.78 L584.25,62.75 L584.66,62.72 L585.08,62.69 L585.49,62.66 L585.91,62.63 L586.32,62.60 L586.74,62.58 L587.15,62.55 L587.57,62.52 L587.98,62.49 L588.40,62.46 L588.81,62.44 L589.23,62.41 L589.64,62.38 L590.06,62.35 L590.47,62.33 L590.89,62.30 L591.30,62.27 L591.72,62.24 L592.13,62.22 L592.55,62.19 L592.96,62.16 L593.38,62.14 L593.79,62.11 L594.21,62.08 L594.62,62.06 L595.03,62.03 L595.45,62.01 L595.86,61.98 L596.28,61.96 L596.69,61.93 L597.11,61.90 L597.52,61.88 L597.94,61.85 L598.35,61.83 L598.77,61.80 L599.18,61.78 L599.60,61.75 L600.01,61.73 L600.43,61.71 L600.84,61.68 L601.26,61.66 L601.67,61.63 L602.09,61.61 L602.50,61.58 L602.92,61.56 L603.33,61.54 L603.75,61.51 L604.16,61.49 L604.58,61.47 L604.99,61.44 L605.41,61.42 L605.82,61.40 L606.24,61.37 L606.65,61.35 L607.07,61.33 L607.48,61.31 L607.90,61.28 L608.31,61.26 L608.73,61.24 L609.14,61.22 L609.56,61.19 L609.97,61.17 L610.39,61.15 L610.80,61.13 L611.22,61.11 L611.63,61.08 L612.05,61.06 L612.46,61.04 L612.88,61.02 L613.29,61.00 L613.71,60.98 L614.12,60.96 L614.54,60.94 L614.95,60.91 L615.37,60.89 L615.78,60.87 L616.20,60.85 L616.61,60.83 L617.03,60.81 L617.44,60.79 L617.86,60.77 L618.27,60.75 L618.69,60.73 L619.10,60.71 L619.52,60.69 L619.93,60.67 L620.35,60.65 L620.76,60.63 L621.18,60.61 L621.59,60.59 L622.01,60.57 L622.42,60.55 L622.84,60.53 L623.25,60.51 L623.67,60.49 L624.08,60.47 L624.50,60.45 L624.91,60.44 L625.33,60.42 L625.74,60.40 L626.16,60.38 L626.57,60.36 L626.99,60.34 L627.40,60.32 L627.82,60.30 L628.23,60.29 L628.65,60.27 L629.06,60.25 L629.48,60.23 L629.89,60.21 L630.31,60.20 L630.72,60.18 L631.14,60.16 L631.55,60.14 L631.97,60.12 L632.38,60.11 L632.80,60.09 L633.21,60.07 L633.63,60.05 L634.04,60.04 L634.46,60.02 L634.87,60.00 L635.29,59.98 L635.70,59.97" fill="none" stroke="#ff1493" stroke-width="2" stroke-dasharray="3.8 2.95"/>
<path d="M428.12,227.04 L428.53,218.96 L428.95,212.25 L429.37,206.51 L429.78,201.49 L430.20,197.04 L430.61,193.04 L431.03,189.40 L431.45,186.07 L431.86,183.00 L432.28,180.15 L432.69,177.49 L433.11,174.99 L433.53,172.65 L433.94,170.43 L434.36,168.33 L434.77,166.34 L435.19,164.44 L435.61,162.63 L436.02,160.90 L436.44,159.24 L436.85,157.65 L437.27,156.11 L437.69,154.64 L438.10,153.22 L438.52,151.84 L438.93,150.52 L439.35,149.23 L439.77,147.99 L440.18,146.78 L440.60,145.61 L441.01,144.48 L441.43,143.37 L441.85,142.30 L442.26,141.25 L442.68,140.23 L443.09,139.23 L443.51,138.26 L443.93,137.32 L444.34,136.39 L444.76,135.49 L445.17,134.60 L445.59,133.74 L446.01,132.89 L446.42,132.06 L446.84,131.25 L447.25,130.46 L447.67,129.68 L448.09,128.91 L448.50,128.16 L448.92,127.43 L449.33,126.70 L449.75,125.99 L450.17,125.30 L450.58,124.61 L451.00,123.94 L451.41,123.27 L451.83,122.62 L452.25,121.98 L452.66,121.35 L453.08,120.73 L453.49,120.12 L453.91,119.51 L454.33,118.92 L454.74,118.34 L455.16,117.76 L455.57,117.19 L455.99,116.63 L456.41,116.08 L456.82,115.54 L457.24,115.00 L457.65,114.47 L458.07,113.95 L458.49,113.43 L458.90,112.92 L459.32,112.42 L459.73,111.92 L460.15,111.43 L460.57,110.94 L460.98,110.47 L461.40,109.99 L461.81,109.52 L462.23,109.06 L462.65,108.61 L463.06,108.15 L463.48,107.71 L463.89,107.27 L464.31,106.83 L464.73,106.40 L465.14,105.97 L465.56,105.55 L465.97,105.13 L466.39,104.71 L466.81,104.31 L467.22,103.90 L467.64,103.50 L468.05,103.10 L468.47,102.71 L468.89,102.32 L469.30,101.93 L469.72,101.55 L470.13,101.17 L470.55,100.80 L470.97,100.43 L471.38,100.06 L471.80,99.69 L472.21,99.33 L472.63,98.97 L473.05,98.62 L473.46,98.27 L473.88,97.92 L474.29,97.57 L474.71,97.23 L475.13,96.89 L475.54,96.55 L475.96,96.22 L476.37,95.89 L476.79,95.56 L477.21,95.24 L477.62,94.91 L478.04,94.59 L478.45,94.27 L478.87,93.96 L479.29,93.65 L479.70,93.34 L480.12,93.03 L480.53,92.72 L480.95,92.42 L481.37,92.12 L481.78,91.82 L482.20,91.52 L482.61,91.23 L483.03,90.94 L483.45,90.65 L483.86,90.36 L484.28,90.07 L484.69,89.79 L485.11,89.51 L485.53,89.23 L485.94,88.95 L486.36,88.67 L486.77,88.40 L487.19,88.13 L487.61,87.86 L488.02,87.59 L488.44,87.32 L488.85,87.06 L489.27,86.79 L489.69,86.53 L490.10,86.27 L490.52,86.01 L490.93,85.76 L491.35,85.50 L491.77,85.25 L492.18,85.00 L492.60,84.75 L493.01,84.50 L493.43,84.25 L493.85,84.01 L494.26,83.76 L494.68,83.52 L495.09,83.28 L495.51,83.04 L495.93,82.80 L496.34,82.57 L496.76,82.33 L497.17,82.10 L497.59,81.87 L498.01,81.64 L498.42,81.41 L498.84,81.18 L499.25,80.95 L499.67,80.73 L500.09,80.50 L500.50,80.28 L500.92,80.06 L501.33,79.84 L501.75,79.62 L502.17,79.40 L502.58,79.18 L503.00,78.96 L503.41,78.75 L503.83,78.54 L504.25,78.32 L504.66,78.11 L505.08,77.90 L505.49,77.69 L505.91,77.49 L506.33,77.28 L506.74,77.07 L507.16,76.87 L507.57,76.66 L507.99,76.46 L508.41,76.26 L508.82,76.06 L509.24,75.86 L509.65,75.66 L510.07,75.46 L510.49,75.27 L510.90,75.07 L511.32,74.88 L511.73,74.68 L512.15,74.49 L512.57,74.30 L512.98,74.11 L513.40,73.92 L513.81,73.73 L514.23,73.54 L514.65,73.35 L515.06,73.17 L515.48,72.98 L515.89,72.79 L516.31,72.61 L516.73,72.43 L517.14,72.25 L517.56,72.06 L517.97,71.88 L518.39,71.70 L518.81,71.52 L519.22,71.35 L519.64,71.17 L520.05,70.99 L520.47,70.82 L520.89,70.64 L521.30,70.47 L521.72,70.29 L522.13,70.12 L522.55,69.95 L522.97,69.78 L523.38,69.61 L523.80,69.44 L524.21,69.27 L524.63,69.10 L525.05,68.93 L525.46,68.77 L525.88,68.60 L526.29,68.43 L526.71,68.27 L527.13,68.11 L527.54,67.94 L527.96,67.78 L528.37,67.62 L528.79,67.46 L529.21,67.30 L529.62,67.13 L530.04,66.98 L530.45,66.82 L530.87,66.66 L531.29,66.50 L531.70,66.34 L532.12,66.19 L532.53,66.03 L532.95,65.88 L533.36,65.72 L533.78,65.57 L534.20,65.41 L534.61,65.26 L535.03,65.11 L535.44,64.96 L535.86,64.81 L536.28,64.66 L536.69,64.51 L537.11,64.36 L537.52,64.21 L537.94,64.06 L538.36,63.91 L538.77,63.77 L539.19,63.62 L539.60,63.47 L540.02,63.33 L540.44,63.18 L540.85,63.04 L541.27,62.89 L541.68,62.75 L542.10,62.61 L542.52,62.47 L542.93,62.32 L543.35,62.18 L543.76,62.04 L544.18,61.90 L544.60,61.76 L545.01,61.62 L545.43,61.48 L545.84,61.34 L546.26,61.21 L546.68,61.07 L547.09,60.93 L547.51,60.80 L547.92,60.66 L548.34,60.52 L548.76,60.39 L549.17,60.25 L549.59,60.12 L550.00,59.99 L550.42,59.85 L550.84,59.72 L551.25,59.59 L551.67,59.46 L552.08,59.32 L552.50,59.19 L552.92,59.06 L553.33,58.93 L553.75,58.80 L554.16,58.67 L554.58,58.54 L555.00,58.42 L555.41,58.29 L555.83,58.16 L556.24,58.03 L556.66,57.91 L557.08,57.78 L557.49,57.65 L557.91,57.53 L558.32,57.40 L558.74,57.28 L559.16,57.15 L559.57,57.03 L559.99,56.90 L560.40,56.78 L560.82,56.66 L561.24,56.54 L561.65,56.41 L562.07,56.29 L562.48,56.17 L562.90,56.05 L563.32,55.93 L563.73,55.81 L564.15,55.69 L564.56,55.57 L564.98,55.45 L565.40,55.33 L565.81,55.21 L566.23,55.09 L566.64,54.98 L567.06,54.86 L567.48,54.74 L567.89,54.62 L568.31,54.51 L568.72,54.39 L569.14,54.28 L569.56,54.16 L569.97,54.05 L570.39,53.93 L570.80,53.82 L571.22,53.70 L571.64,53.59 L572.05,53.47 L572.47,53.36 L572.88,53.25 L573.30,53.14 L573.72,53.02 L574.13,52.91 L574.55,52.80 L574.96,52.69 L575.38,52.58 L575.80,52.47 L576.21,52.36 L576.63,52.25 L577.04,52.14 L577.46,52.03 L577.88,51.92 L578.29,51.81 L578.71,51.70 L579.12,51.59 L579.54,51.49 L579.96,51.38 L580.37,51.27 L580.79,51.16 L581.20,51.06 L581.62,50.95 L582.04,50.84 L582.45,50.74 L582.87,50.63 L583.28,50.53 L583.70,50.42 L584.12,50.32 L584.53,50.21 L584.95,50.11 L585.36,50.00 L585.78,49.90 L586.20,49.80 L586.61,49.69 L587.03,49.59 L587.44,49.49 L587.86,49.39 L588.28,49.28 L588.69,49.18 L589.11,49.08 L589.52,48.98 L589.94,48.88 L590.36,48.78 L590.77,48.68 L591.19,48.58 L591.60,48.48 L592.02,48.38 L592.44,48.28 L592.85,48.18 L593.27,48.08 L593.68,47.98 L594.10,47.88 L594.52,47.78 L594.93,47.69 L595.35,47.59 L595.76,47.49 L596.18,47.39 L596.60,47.30 L597.01,47.20 L597.43,47.10 L597.84,47.01 L598.26,46.91 L598.68,46.81 L599.09,46.72 L599.51,46.62 L599.92,46.53 L600.34,46.43 L600.76,46.34 L601.17,46.24 L601.59,46.15 L602.00,46.05 L602.42,45.96 L602.84,45.87 L603.25,45.77 L603.67,45.68 L604.08,45.59 L604.50,45.49 L604.92,45.40 L605.33,45.31 L605.75,45.22 L606.16,45.12 L606.58,45.03 L607.00,44.94 L607.41,44.85 L607.83,44.76 L608.24,44.67 L608.66,44.58 L609.08,44.49 L609.49,44.40 L609.91,44.31 L610.32,44.22 L610.74,44.13 L611.16,44.04 L611.57,43.95 L611.99,43.86 L612.40,43.77 L612.82,43.68 L613.24,43.59 L613.65,43.51 L614.07,43.42 L614.48,43.33 L614.90,43.24 L615.32,43.15 L615.73,43.07 L616.15,42.98 L616.56,42.89 L616.98,42.81 L617.40,42.72 L617.81,42.63 L618.23,42.55 L618.64,42.46 L619.06,42.38 L619.48,42.29 L619.89,42.20 L620.31,42.12 L620.72,42.03 L621.14,41.95 L621.56,41.86 L621.97,41.78 L622.39,41.70 L622.80,41.61 L623.22,41.53 L623.64,41.44 L624.05,41.36 L624.47,41.28 L624.88,41.19 L625.30,41.11 L625.72,41.03 L626.13,40.94 L626.55,40.86 L626.96,40.78 L627.38,40.70 L627.80,40.62 L628.21,40.53 L628.63,40.45 L629.04,40.37 L629.46,40.29 L629.88,40.21 L630.29,40.13 L630.71,40.05 L631.12,39.97 L631.54,39.88 L631.96,39.80 L632.37,39.72 L632.79,39.64 L633.20,39.56 L633.62,39.48 L634.04,39.40 L634.45,39.33 L634.87,39.25 L635.28,39.17 L635.70,39.09" fill="none" stroke="#1f8a1f" stroke-width="2" stroke-dasharray="6.6 4.1 1.6 3.5 1.9 4"/>
<path d="M428.64,499.12 L429.05,492.04 L429.47,485.25 L429.88,478.73 L430.30,472.47 L430.71,466.46 L431.13,460.69 L431.54,455.15 L431.96,449.83 L432.37,444.72 L432.79,439.81 L433.20,435.10 L433.62,430.58 L434.03,426.23 L434.45,422.06 L434.86,418.06 L435.28,414.21 L435.69,410.52 L436.11,406.97 L436.52,403.57 L436.94,400.30 L437.35,397.16 L437.77,394.14 L438.18,391.25 L438.60,388.47 L439.01,385.80 L439.43,383.24 L439.84,380.78 L440.26,378.41 L440.67,376.15 L441.09,373.97 L441.50,371.88 L441.92,369.87 L442.33,367.94 L442.75,366.09 L443.16,364.31 L443.58,362.60 L443.99,360.96 L444.41,359.39 L444.82,357.88 L445.24,356.42 L445.65,355.03 L446.07,353.69 L446.48,352.41 L446.90,351.17 L447.31,349.99 L447.73,348.85 L448.14,347.76 L448.56,346.71 L448.97,345.70 L449.39,344.74 L449.80,343.81 L450.22,342.92 L450.63,342.06 L451.05,341.24 L451.46,340.45 L451.88,339.69 L452.29,338.96 L452.71,338.26 L453.12,337.59 L453.54,336.95 L453.95,336.33 L454.37,335.73 L454.78,335.16 L455.20,334.62 L455.61,334.09 L456.03,333.58 L456.44,333.10 L456.86,332.63 L457.27,332.19 L457.69,331.76 L458.10,331.35 L458.52,330.95 L458.93,330.57 L459.35,330.20 L459.76,329.85 L460.18,329.52 L460.59,329.19 L461.01,328.88 L461.42,328.59 L461.84,328.30 L462.25,328.02 L462.67,327.76 L463.08,327.51 L463.50,327.26 L463.91,327.03 L464.33,326.81 L464.74,326.59 L465.16,326.38 L465.57,326.19 L465.99,326.00 L466.40,325.81 L466.82,325.64 L467.23,325.47 L467.65,325.31 L468.06,325.15 L468.48,325.00 L468.89,324.86 L469.31,324.72 L469.72,324.59 L470.13,324.46 L470.55,324.34 L470.96,324.22 L471.38,324.11 L471.79,324.00 L472.21,323.90 L472.62,323.80 L473.04,323.70 L473.45,323.61 L473.87,323.52 L474.28,323.44 L474.70,323.36 L475.11,323.28 L475.53,323.20 L475.94,323.13 L476.36,323.06 L476.77,323.00 L477.19,322.93 L477.60,322.87 L478.02,322.81 L478.43,322.76 L478.85,322.70 L479.26,322.65 L479.68,322.60 L480.09,322.55 L480.51,322.51 L480.92,322.46 L481.34,322.42 L481.75,322.38 L482.17,322.34 L482.58,322.30 L483.00,322.27 L483.41,322.23 L483.83,322.20 L484.24,322.17 L484.66,322.14 L485.07,322.11 L485.49,322.08 L485.90,322.05 L486.32,322.02 L486.73,322.00 L487.15,321.98 L487.56,321.95 L487.98,321.93 L488.39,321.91 L488.81,321.89 L489.22,321.87 L489.64,321.85 L490.05,321.83 L490.47,321.81 L490.88,321.80 L491.30,321.78 L491.71,321.77 L492.13,321.75 L492.54,321.74 L492.96,321.72 L493.37,321.71 L493.79,321.70 L494.20,321.69 L494.62,321.67 L495.03,321.66 L495.45,321.65 L495.86,321.64 L496.28,321.63 L496.69,321.62 L497.11,321.61 L497.52,321.61 L497.94,321.60 L498.35,321.59 L498.77,321.58 L499.18,321.57 L499.60,321.57 L500.01,321.56 L500.43,321.55 L500.84,321.55 L501.26,321.54 L501.67,321.54 L502.09,321.53 L502.50,321.52 L502.92,321.52 L503.33,321.51 L503.75,321.51 L504.16,321.51 L504.58,321.50 L504.99,321.50 L505.41,321.49 L505.82,321.49 L506.24,321.48 L506.65,321.48 L507.07,321.48 L507.48,321.47 L507.90,321.47 L508.31,321.47 L508.73,321.47 L509.14,321.46 L509.56,321.46 L509.97,321.46 L510.39,321.46 L510.80,321.45 L511.22,321.45 L511.63,321.45 L512.04,321.45 L512.46,321.44 L512.87,321.44 L513.29,321.44 L513.70,321.44 L514.12,321.44 L514.53,321.44 L514.95,321.43 L515.36,321.43 L515.78,321.43 L516.19,321.43 L516.61,321.43 L517.02,321.43 L517.44,321.43 L517.85,321.42 L518.27,321.42 L518.68,321.42 L519.10,321.42 L519.51,321.42 L519.93,321.42 L520.34,321.42 L520.76,321.42 L521.17,321.42 L521.59,321.42 L522.00,321.41 L522.42,321.41 L522.83,321.41 L523.25,321.41 L523.66,321.41 L524.08,321.41 L524.49,321.41 L524.91,321.41 L525.32,321.41 L525.74,321.41 L526.15,321.41 L526.57,321.41 L526.98,321.41 L527.40,321.41 L527.81,321.41 L528.23,321.41 L528.64,321.41 L529.06,321.40 L529.47,321.40 L529.89,321.40 L530.30,321.40 L530.72,321.40 L531.13,321.40 L531.55,321.40 L531.96,321.40 L532.38,321.40 L532.79,321.40 L533.21,321.40 L533.62,321.40 L534.04,321.40 L534.45,321.40 L534.87,321.40 L535.28,321.40 L535.70,321.40 L536.11,321.40 L536.53,321.40 L536.94,321.40 L537.36,321.40 L537.77,321.40 L538.19,321.40 L538.60,321.40 L539.02,321.40 L539.43,321.40 L539.85,321.40 L540.26,321.40 L540.68,321.40 L541.09,321.40 L541.51,321.40 L541.92,321.40 L542.34,321.40 L542.75,321.40 L543.17,321.40 L543.58,321.40 L544.00,321.40 L544.41,321.40 L544.83,321.40 L545.24,321.40 L545.66,321.40 L546.07,321.40 L546.49,321.40 L546.90,321.40 L547.32,321.40 L547.73,321.40 L548.15,321.40 L548.56,321.40 L548.98,321.40 L549.39,321.40 L549.81,321.40 L550.22,321.40 L550.64,321.40 L551.05,321.40 L551.47,321.40 L551.88,321.40 L552.30,321.40 L552.71,321.40 L553.12,321.40 L553.54,321.40 L553.95,321.40 L554.37,321.40 L554.78,321.40 L555.20,321.40 L555.61,321.40 L556.03,321.40 L556.44,321.40 L556.86,321.40 L557.27,321.40 L557.69,321.40 L558.10,321.40 L558.52,321.40 L558.93,321.40 L559.35,321.40 L559.76,321.40 L560.18,321.40 L560.59,321.40 L561.01,321.40 L561.42,321.40 L561.84,321.40 L562.25,321.40 L562.67,321.40 L563.08,321.40 L563.50,321.40 L563.91,321.40 L564.33,321.40 L564.74,321.40 L565.16,321.40 L565.57,321.40 L565.99,321.40 L566.40,321.40 L566.82,321.40 L567.23,321.40 L567.65,321.40 L568.06,321.40 L568.48,321.40 L568.89,321.40 L569.31,321.40 L569.72,321.40 L570.14,321.40 L570.55,321.40 L570.97,321.40 L571.38,321.40 L571.80,321.40 L572.21,321.40 L572.63,321.40 L573.04,321.40 L573.46,321.40 L573.87,321.40 L574.29,321.40 L574.70,321.40 L575.12,321.40 L575.53,321.40 L575.95,321.40 L576.36,321.40 L576.78,321.40 L577.19,321.40 L577.61,321.40 L578.02,321.40 L578.44,321.40 L578.85,321.40 L579.27,321.40 L579.68,321.40 L580.10,321.40 L580.51,321.40 L580.93,321.40 L581.34,321.40 L581.76,321.40 L582.17,321.40 L582.59,321.40 L583.00,321.40 L583.42,321.40 L583.83,321.40 L584.25,321.40 L584.66,321.40 L585.08,321.40 L585.49,321.40 L585.91,321.40 L586.32,321.40 L586.74,321.40 L587.15,321.40 L587.57,321.40 L587.98,321.40 L588.40,321.40 L588.81,321.40 L589.23,321.40 L589.64,321.40 L590.06,321.40 L590.47,321.40 L590.89,321.40 L591.30,321.40 L591.72,321.40 L592.13,321.40 L592.55,321.40 L592.96,321.40 L593.38,321.40 L593.79,321.40 L594.21,321.40 L594.62,321.40 L595.03,321.40 L595.45,321.40 L595.86,321.40 L596.28,321.40 L596.69,321.40 L597.11,321.40 L597.52,321.40 L597.94,321.40 L598.35,321.40 L598.77,321.40 L599.18,321.40 L599.60,321.40 L600.01,321.40 L600.43,321.40 L600.84,321.40 L601.26,321.40 L601.67,321.40 L602.09,321.40 L602.50,321.40 L602.92,321.40 L603.33,321.40 L603.75,321.40 L604.16,321.40 L604.58,321.40 L604.99,321.40 L605.41,321.40 L605.82,321.40 L606.24,321.40 L606.65,321.40 L607.07,321.40 L607.48,321.40 L607.90,321.40 L608.31,321.40 L608.73,321.40 L609.14,321.40 L609.56,321.40 L609.97,321.40 L610.39,321.40 L610.80,321.40 L611.22,321.40 L611.63,321.40 L612.05,321.40 L612.46,321.40 L612.88,321.40 L613.29,321.40 L613.71,321.40 L614.12,321.40 L614.54,321.40 L614.95,321.40 L615.37,321.40 L615.78,321.40 L616.20,321.40 L616.61,321.40 L617.03,321.40 L617.44,321.40 L617.86,321.40 L618.27,321.40 L618.69,321.40 L619.10,321.40 L619.52,321.40 L619.93,321.40 L620.35,321.40 L620.76,321.40 L621.18,321.40 L621.59,321.40 L622.01,321.40 L622.42,321.40 L622.84,321.40 L623.25,321.40 L623.67,321.40 L624.08,321.40 L624.50,321.40 L624.91,321.40 L625.33,321.40 L625.74,321.40 L626.16,321.40 L626.57,321.40 L626.99,321.40 L627.40,321.40 L627.82,321.40 L628.23,321.40 L628.65,321.40 L629.06,321.40 L629.48,321.40 L629.89,321.40 L630.31,321.40 L630.72,321.40 L631.14,321.40 L631.55,321.40 L631.97,321.40 L632.38,321.40 L632.80,321.40 L633.21,321.40 L633.63,321.40 L634.04,321.40 L634.46,321.40 L634.87,321.40 L635.29,321.40 L635.70,321.40" fill="none" stroke="#1414f0" stroke-width="1.9" stroke-linejoin="round"/>
<path d="M428.64,484.78 L429.05,476.25 L429.47,468.48 L429.88,461.38 L430.30,454.86 L430.71,448.86 L431.13,443.31 L431.54,438.17 L431.96,433.40 L432.37,428.95 L432.79,424.79 L433.20,420.90 L433.62,417.25 L434.03,413.81 L434.45,410.58 L434.86,407.53 L435.28,404.65 L435.69,401.93 L436.11,399.34 L436.52,396.89 L436.94,394.56 L437.35,392.34 L437.77,390.23 L438.18,388.22 L438.60,386.29 L439.01,384.45 L439.43,382.69 L439.84,381.01 L440.26,379.39 L440.67,377.84 L441.09,376.35 L441.50,374.92 L441.92,373.55 L442.33,372.22 L442.75,370.95 L443.16,369.72 L443.58,368.53 L443.99,367.39 L444.41,366.28 L444.82,365.21 L445.24,364.18 L445.65,363.18 L446.07,362.22 L446.48,361.28 L446.90,360.37 L447.31,359.49 L447.73,358.64 L448.14,357.81 L448.56,357.01 L448.97,356.23 L449.39,355.47 L449.80,354.74 L450.22,354.02 L450.63,353.32 L451.05,352.64 L451.46,351.99 L451.88,351.34 L452.29,350.72 L452.71,350.11 L453.12,349.51 L453.54,348.93 L453.95,348.37 L454.37,347.82 L454.78,347.28 L455.20,346.75 L455.61,346.24 L456.03,345.74 L456.44,345.25 L456.86,344.77 L457.27,344.30 L457.69,343.84 L458.10,343.39 L458.52,342.95 L458.93,342.53 L459.35,342.11 L459.76,341.70 L460.18,341.29 L460.59,340.90 L461.01,340.51 L461.42,340.14 L461.84,339.76 L462.25,339.40 L462.67,339.04 L463.08,338.70 L463.50,338.35 L463.91,338.02 L464.33,337.69 L464.74,337.36 L465.16,337.05 L465.57,336.73 L465.99,336.43 L466.40,336.13 L466.82,335.83 L467.23,335.54 L467.65,335.26 L468.06,334.98 L468.48,334.70 L468.89,334.43 L469.31,334.16 L469.72,333.90 L470.13,333.64 L470.55,333.39 L470.96,333.14 L471.38,332.90 L471.79,332.66 L472.21,332.42 L472.62,332.19 L473.04,331.96 L473.45,331.73 L473.87,331.51 L474.28,331.29 L474.70,331.07 L475.11,330.86 L475.53,330.65 L475.94,330.45 L476.36,330.24 L476.77,330.04 L477.19,329.84 L477.60,329.65 L478.02,329.46 L478.43,329.27 L478.85,329.08 L479.26,328.90 L479.68,328.72 L480.09,328.54 L480.51,328.36 L480.92,328.19 L481.34,328.02 L481.75,327.85 L482.17,327.68 L482.58,327.52 L483.00,327.36 L483.41,327.20 L483.83,327.04 L484.24,326.88 L484.66,326.73 L485.07,326.58 L485.49,326.43 L485.90,326.28 L486.32,326.13 L486.73,325.99 L487.15,325.84 L487.56,325.70 L487.98,325.56 L488.39,325.43 L488.81,325.29 L489.22,325.16 L489.64,325.02 L490.05,324.89 L490.47,324.76 L490.88,324.63 L491.30,324.51 L491.71,324.38 L492.13,324.26 L492.54,324.14 L492.96,324.02 L493.37,323.90 L493.79,323.78 L494.20,323.66 L494.62,323.55 L495.03,323.43 L495.45,323.32 L495.86,323.21 L496.28,323.10 L496.69,322.99 L497.11,322.88 L497.52,322.77 L497.94,322.67 L498.35,322.56 L498.77,322.46 L499.18,322.36 L499.60,322.25 L500.01,322.15 L500.43,322.05 L500.84,321.96 L501.26,321.86 L501.67,321.76 L502.09,321.67 L502.50,321.57 L502.92,321.48 L503.33,321.39 L503.75,321.30 L504.16,321.20 L504.58,321.11 L504.99,321.03 L505.41,320.94 L505.82,320.85 L506.24,320.76 L506.65,320.68 L507.07,320.59 L507.48,320.51 L507.90,320.43 L508.31,320.34 L508.73,320.26 L509.14,320.18 L509.56,320.10 L509.97,320.02 L510.39,319.94 L510.80,319.87 L511.22,319.79 L511.63,319.71 L512.04,319.64 L512.46,319.56 L512.87,319.49 L513.29,319.41 L513.70,319.34 L514.12,319.27 L514.53,319.20 L514.95,319.13 L515.36,319.06 L515.78,318.99 L516.19,318.92 L516.61,318.85 L517.02,318.78 L517.44,318.71 L517.85,318.64 L518.27,318.58 L518.68,318.51 L519.10,318.45 L519.51,318.38 L519.93,318.32 L520.34,318.25 L520.76,318.19 L521.17,318.13 L521.59,318.07 L522.00,318.01 L522.42,317.94 L522.83,317.88 L523.25,317.82 L523.66,317.76 L524.08,317.70 L524.49,317.65 L524.91,317.59 L525.32,317.53 L525.74,317.47 L526.15,317.42 L526.57,317.36 L526.98,317.30 L527.40,317.25 L527.81,317.19 L528.23,317.14 L528.64,317.08 L529.06,317.03 L529.47,316.98 L529.89,316.92 L530.30,316.87 L530.72,316.82 L531.13,316.77 L531.55,316.71 L531.96,316.66 L532.38,316.61 L532.79,316.56 L533.21,316.51 L533.62,316.46 L534.04,316.41 L534.45,316.36 L534.87,316.32 L535.28,316.27 L535.70,316.22 L536.11,316.17 L536.53,316.13 L536.94,316.08 L537.36,316.03 L537.77,315.99 L538.19,315.94 L538.60,315.89 L539.02,315.85 L539.43,315.80 L539.85,315.76 L540.26,315.72 L540.68,315.67 L541.09,315.63 L541.51,315.58 L541.92,315.54 L542.34,315.50 L542.75,315.46 L543.17,315.41 L543.58,315.37 L544.00,315.33 L544.41,315.29 L544.83,315.25 L545.24,315.21 L545.66,315.17 L546.07,315.13 L546.49,315.09 L546.90,315.05 L547.32,315.01 L547.73,314.97 L548.15,314.93 L548.56,314.89 L548.98,314.85 L549.39,314.81 L549.81,314.78 L550.22,314.74 L550.64,314.70 L551.05,314.66 L551.47,314.63 L551.88,314.59 L552.30,314.55 L552.71,314.52 L553.12,314.48 L553.54,314.44 L553.95,314.41 L554.37,314.37 L554.78,314.34 L555.20,314.30 L555.61,314.27 L556.03,314.23 L556.44,314.20 L556.86,314.17 L557.27,314.13 L557.69,314.10 L558.10,314.06 L558.52,314.03 L558.93,314.00 L559.35,313.96 L559.76,313.93 L560.18,313.90 L560.59,313.87 L561.01,313.84 L561.42,313.80 L561.84,313.77 L562.25,313.74 L562.67,313.71 L563.08,313.68 L563.50,313.65 L563.91,313.62 L564.33,313.58 L564.74,313.55 L565.16,313.52 L565.57,313.49 L565.99,313.46 L566.40,313.43 L566.82,313.40 L567.23,313.37 L567.65,313.34 L568.06,313.32 L568.48,313.29 L568.89,313.26 L569.31,313.23 L569.72,313.20 L570.14,313.17 L570.55,313.14 L570.97,313.12 L571.38,313.09 L571.80,313.06 L572.21,313.03 L572.63,313.01 L573.04,312.98 L573.46,312.95 L573.87,312.92 L574.29,312.90 L574.70,312.87 L575.12,312.84 L575.53,312.82 L575.95,312.79 L576.36,312.77 L576.78,312.74 L577.19,312.71 L577.61,312.69 L578.02,312.66 L578.44,312.64 L578.85,312.61 L579.27,312.59 L579.68,312.56 L580.10,312.54 L580.51,312.51 L580.93,312.49 L581.34,312.46 L581.76,312.44 L582.17,312.41 L582.59,312.39 L583.00,312.36 L583.42,312.34 L583.83,312.32 L584.25,312.29 L584.66,312.27 L585.08,312.25 L585.49,312.22 L585.91,312.20 L586.32,312.18 L586.74,312.15 L587.15,312.13 L587.57,312.11 L587.98,312.09 L588.40,312.06 L588.81,312.04 L589.23,312.02 L589.64,312.00 L590.06,311.97 L590.47,311.95 L590.89,311.93 L591.30,311.91 L591.72,311.89 L592.13,311.87 L592.55,311.84 L592.96,311.82 L593.38,311.80 L593.79,311.78 L594.21,311.76 L594.62,311.74 L595.03,311.72 L595.45,311.70 L595.86,311.68 L596.28,311.65 L596.69,311.63 L597.11,311.61 L597.52,311.59 L597.94,311.57 L598.35,311.55 L598.77,311.53 L599.18,311.51 L599.60,311.49 L600.01,311.47 L600.43,311.45 L600.84,311.44 L601.26,311.42 L601.67,311.40 L602.09,311.38 L602.50,311.36 L602.92,311.34 L603.33,311.32 L603.75,311.30 L604.16,311.28 L604.58,311.26 L604.99,311.24 L605.41,311.23 L605.82,311.21 L606.24,311.19 L606.65,311.17 L607.07,311.15 L607.48,311.13 L607.90,311.12 L608.31,311.10 L608.73,311.08 L609.14,311.06 L609.56,311.04 L609.97,311.03 L610.39,311.01 L610.80,310.99 L611.22,310.97 L611.63,310.96 L612.05,310.94 L612.46,310.92 L612.88,310.91 L613.29,310.89 L613.71,310.87 L614.12,310.85 L614.54,310.84 L614.95,310.82 L615.37,310.80 L615.78,310.79 L616.20,310.77 L616.61,310.75 L617.03,310.74 L617.44,310.72 L617.86,310.70 L618.27,310.69 L618.69,310.67 L619.10,310.66 L619.52,310.64 L619.93,310.62 L620.35,310.61 L620.76,310.59 L621.18,310.58 L621.59,310.56 L622.01,310.55 L622.42,310.53 L622.84,310.51 L623.25,310.50 L623.67,310.48 L624.08,310.47 L624.50,310.45 L624.91,310.44 L625.33,310.42 L625.74,310.41 L626.16,310.39 L626.57,310.38 L626.99,310.36 L627.40,310.35 L627.82,310.33 L628.23,310.32 L628.65,310.30 L629.06,310.29 L629.48,310.27 L629.89,310.26 L630.31,310.25 L630.72,310.23 L631.14,310.22 L631.55,310.20 L631.97,310.19 L632.38,310.17 L632.80,310.16 L633.21,310.15 L633.63,310.13 L634.04,310.12 L634.46,310.10 L634.87,310.09 L635.29,310.08 L635.70,310.06" fill="none" stroke="#ff1493" stroke-width="2" stroke-dasharray="3.8 2.95"/>
<path d="M428.12,475.70 L428.53,466.70 L428.95,459.40 L429.37,453.26 L429.78,447.97 L430.20,443.31 L430.61,439.15 L431.03,435.40 L431.45,431.98 L431.86,428.84 L432.28,425.93 L432.69,423.23 L433.11,420.70 L433.53,418.33 L433.94,416.09 L434.36,413.98 L434.77,411.98 L435.19,410.07 L435.61,408.26 L436.02,406.52 L436.44,404.86 L436.85,403.27 L437.27,401.75 L437.69,400.28 L438.10,398.86 L438.52,397.49 L438.93,396.17 L439.35,394.90 L439.77,393.66 L440.18,392.46 L440.60,391.30 L441.01,390.18 L441.43,389.08 L441.85,388.02 L442.26,386.98 L442.68,385.97 L443.09,384.99 L443.51,384.03 L443.93,383.09 L444.34,382.18 L444.76,381.28 L445.17,380.41 L445.59,379.56 L446.01,378.72 L446.42,377.90 L446.84,377.10 L447.25,376.32 L447.67,375.55 L448.09,374.79 L448.50,374.06 L448.92,373.33 L449.33,372.62 L449.75,371.92 L450.17,371.23 L450.58,370.56 L451.00,369.89 L451.41,369.24 L451.83,368.60 L452.25,367.97 L452.66,367.35 L453.08,366.74 L453.49,366.14 L453.91,365.54 L454.33,364.96 L454.74,364.39 L455.16,363.82 L455.57,363.26 L455.99,362.71 L456.41,362.17 L456.82,361.63 L457.24,361.11 L457.65,360.59 L458.07,360.07 L458.49,359.56 L458.90,359.06 L459.32,358.57 L459.73,358.08 L460.15,357.60 L460.57,357.13 L460.98,356.66 L461.40,356.19 L461.81,355.73 L462.23,355.28 L462.65,354.83 L463.06,354.39 L463.48,353.95 L463.89,353.52 L464.31,353.09 L464.73,352.66 L465.14,352.25 L465.56,351.83 L465.97,351.42 L466.39,351.01 L466.81,350.61 L467.22,350.22 L467.64,349.82 L468.05,349.43 L468.47,349.05 L468.89,348.67 L469.30,348.29 L469.72,347.91 L470.13,347.54 L470.55,347.17 L470.97,346.81 L471.38,346.45 L471.80,346.09 L472.21,345.74 L472.63,345.39 L473.05,345.04 L473.46,344.70 L473.88,344.36 L474.29,344.02 L474.71,343.68 L475.13,343.35 L475.54,343.02 L475.96,342.69 L476.37,342.37 L476.79,342.05 L477.21,341.73 L477.62,341.41 L478.04,341.10 L478.45,340.79 L478.87,340.48 L479.29,340.17 L479.70,339.87 L480.12,339.57 L480.53,339.27 L480.95,338.97 L481.37,338.68 L481.78,338.38 L482.20,338.09 L482.61,337.81 L483.03,337.52 L483.45,337.24 L483.86,336.95 L484.28,336.67 L484.69,336.40 L485.11,336.12 L485.53,335.85 L485.94,335.58 L486.36,335.31 L486.77,335.04 L487.19,334.77 L487.61,334.51 L488.02,334.24 L488.44,333.98 L488.85,333.72 L489.27,333.47 L489.69,333.21 L490.10,332.96 L490.52,332.71 L490.93,332.45 L491.35,332.21 L491.77,331.96 L492.18,331.71 L492.60,331.47 L493.01,331.22 L493.43,330.98 L493.85,330.74 L494.26,330.51 L494.68,330.27 L495.09,330.03 L495.51,329.80 L495.93,329.57 L496.34,329.34 L496.76,329.11 L497.17,328.88 L497.59,328.65 L498.01,328.42 L498.42,328.20 L498.84,327.98 L499.25,327.75 L499.67,327.53 L500.09,327.31 L500.50,327.10 L500.92,326.88 L501.33,326.66 L501.75,326.45 L502.17,326.24 L502.58,326.02 L503.00,325.81 L503.41,325.60 L503.83,325.39 L504.25,325.19 L504.66,324.98 L505.08,324.77 L505.49,324.57 L505.91,324.37 L506.33,324.16 L506.74,323.96 L507.16,323.76 L507.57,323.56 L507.99,323.37 L508.41,323.17 L508.82,322.97 L509.24,322.78 L509.65,322.58 L510.07,322.39 L510.49,322.20 L510.90,322.01 L511.32,321.82 L511.73,321.63 L512.15,321.44 L512.57,321.25 L512.98,321.07 L513.40,320.88 L513.81,320.70 L514.23,320.51 L514.65,320.33 L515.06,320.15 L515.48,319.96 L515.89,319.78 L516.31,319.60 L516.73,319.43 L517.14,319.25 L517.56,319.07 L517.97,318.89 L518.39,318.72 L518.81,318.54 L519.22,318.37 L519.64,318.20 L520.05,318.02 L520.47,317.85 L520.89,317.68 L521.30,317.51 L521.72,317.34 L522.13,317.17 L522.55,317.01 L522.97,316.84 L523.38,316.67 L523.80,316.51 L524.21,316.34 L524.63,316.18 L525.05,316.01 L525.46,315.85 L525.88,315.69 L526.29,315.53 L526.71,315.36 L527.13,315.20 L527.54,315.04 L527.96,314.89 L528.37,314.73 L528.79,314.57 L529.21,314.41 L529.62,314.26 L530.04,314.10 L530.45,313.95 L530.87,313.79 L531.29,313.64 L531.70,313.48 L532.12,313.33 L532.53,313.18 L532.95,313.03 L533.36,312.88 L533.78,312.73 L534.20,312.58 L534.61,312.43 L535.03,312.28 L535.44,312.13 L535.86,311.98 L536.28,311.84 L536.69,311.69 L537.11,311.54 L537.52,311.40 L537.94,311.25 L538.36,311.11 L538.77,310.97 L539.19,310.82 L539.60,310.68 L540.02,310.54 L540.44,310.40 L540.85,310.26 L541.27,310.12 L541.68,309.98 L542.10,309.84 L542.52,309.70 L542.93,309.56 L543.35,309.42 L543.76,309.28 L544.18,309.15 L544.60,309.01 L545.01,308.87 L545.43,308.74 L545.84,308.60 L546.26,308.47 L546.68,308.33 L547.09,308.20 L547.51,308.07 L547.92,307.93 L548.34,307.80 L548.76,307.67 L549.17,307.54 L549.59,307.41 L550.00,307.28 L550.42,307.15 L550.84,307.02 L551.25,306.89 L551.67,306.76 L552.08,306.63 L552.50,306.50 L552.92,306.37 L553.33,306.25 L553.75,306.12 L554.16,305.99 L554.58,305.87 L555.00,305.74 L555.41,305.62 L555.83,305.49 L556.24,305.37 L556.66,305.25 L557.08,305.12 L557.49,305.00 L557.91,304.88 L558.32,304.75 L558.74,304.63 L559.16,304.51 L559.57,304.39 L559.99,304.27 L560.40,304.15 L560.82,304.03 L561.24,303.91 L561.65,303.79 L562.07,303.67 L562.48,303.55 L562.90,303.43 L563.32,303.32 L563.73,303.20 L564.15,303.08 L564.56,302.96 L564.98,302.85 L565.40,302.73 L565.81,302.62 L566.23,302.50 L566.64,302.39 L567.06,302.27 L567.48,302.16 L567.89,302.04 L568.31,301.93 L568.72,301.82 L569.14,301.70 L569.56,301.59 L569.97,301.48 L570.39,301.37 L570.80,301.25 L571.22,301.14 L571.64,301.03 L572.05,300.92 L572.47,300.81 L572.88,300.70 L573.30,300.59 L573.72,300.48 L574.13,300.37 L574.55,300.26 L574.96,300.15 L575.38,300.05 L575.80,299.94 L576.21,299.83 L576.63,299.72 L577.04,299.62 L577.46,299.51 L577.88,299.40 L578.29,299.30 L578.71,299.19 L579.12,299.09 L579.54,298.98 L579.96,298.88 L580.37,298.77 L580.79,298.67 L581.20,298.56 L581.62,298.46 L582.04,298.35 L582.45,298.25 L582.87,298.15 L583.28,298.05 L583.70,297.94 L584.12,297.84 L584.53,297.74 L584.95,297.64 L585.36,297.54 L585.78,297.43 L586.20,297.33 L586.61,297.23 L587.03,297.13 L587.44,297.03 L587.86,296.93 L588.28,296.83 L588.69,296.73 L589.11,296.63 L589.52,296.54 L589.94,296.44 L590.36,296.34 L590.77,296.24 L591.19,296.14 L591.60,296.04 L592.02,295.95 L592.44,295.85 L592.85,295.75 L593.27,295.66 L593.68,295.56 L594.10,295.46 L594.52,295.37 L594.93,295.27 L595.35,295.18 L595.76,295.08 L596.18,294.99 L596.60,294.89 L597.01,294.80 L597.43,294.70 L597.84,294.61 L598.26,294.52 L598.68,294.42 L599.09,294.33 L599.51,294.24 L599.92,294.14 L600.34,294.05 L600.76,293.96 L601.17,293.86 L601.59,293.77 L602.00,293.68 L602.42,293.59 L602.84,293.50 L603.25,293.41 L603.67,293.32 L604.08,293.23 L604.50,293.13 L604.92,293.04 L605.33,292.95 L605.75,292.86 L606.16,292.77 L606.58,292.69 L607.00,292.60 L607.41,292.51 L607.83,292.42 L608.24,292.33 L608.66,292.24 L609.08,292.15 L609.49,292.06 L609.91,291.98 L610.32,291.89 L610.74,291.80 L611.16,291.71 L611.57,291.63 L611.99,291.54 L612.40,291.45 L612.82,291.37 L613.24,291.28 L613.65,291.19 L614.07,291.11 L614.48,291.02 L614.90,290.94 L615.32,290.85 L615.73,290.77 L616.15,290.68 L616.56,290.60 L616.98,290.51 L617.40,290.43 L617.81,290.34 L618.23,290.26 L618.64,290.18 L619.06,290.09 L619.48,290.01 L619.89,289.93 L620.31,289.84 L620.72,289.76 L621.14,289.68 L621.56,289.59 L621.97,289.51 L622.39,289.43 L622.80,289.35 L623.22,289.27 L623.64,289.18 L624.05,289.10 L624.47,289.02 L624.88,288.94 L625.30,288.86 L625.72,288.78 L626.13,288.70 L626.55,288.62 L626.96,288.54 L627.38,288.46 L627.80,288.38 L628.21,288.30 L628.63,288.22 L629.04,288.14 L629.46,288.06 L629.88,287.98 L630.29,287.90 L630.71,287.82 L631.12,287.74 L631.54,287.66 L631.96,287.58 L632.37,287.51 L632.79,287.43 L633.20,287.35 L633.62,287.27 L634.04,287.20 L634.45,287.12 L634.87,287.04 L635.28,286.96 L635.70,286.89" fill="none" stroke="#1f8a1f" stroke-width="2" stroke-dasharray="6.6 4.1 1.6 3.5 1.9 4"/>
<rect x="64.00" y="8.60" width="261.50" height="261.40" fill="none" stroke="#1c1c1c" stroke-width="1.9"/>
<rect x="64.00" y="270.30" width="261.50" height="261.80" fill="none" stroke="#1c1c1c" stroke-width="1.9"/>
<rect x="409.50" y="8.50" width="261.00" height="261.50" fill="none" stroke="#1c1c1c" stroke-width="1.9"/>
<rect x="409.50" y="270.30" width="261.00" height="261.80" fill="none" stroke="#1c1c1c" stroke-width="1.9"/>
<line x1="59.40" y1="252.57" x2="64.00" y2="252.57" stroke="#1c1c1c" stroke-width="1.7"/>
<line x1="59.40" y1="217.72" x2="64.00" y2="217.72" stroke="#1c1c1c" stroke-width="1.7"/>
<line x1="59.40" y1="182.87" x2="64.00" y2="182.87" stroke="#1c1c1c" stroke-width="1.7"/>
<line x1="59.40" y1="148.01" x2="64.00" y2="148.01" stroke="#1c1c1c" stroke-width="1.7"/>
<line x1="59.40" y1="113.16" x2="64.00" y2="113.16" stroke="#1c1c1c" stroke-width="1.7"/>
<line x1="59.40" y1="78.31" x2="64.00" y2="78.31" stroke="#1c1c1c" stroke-width="1.7"/>
<line x1="59.40" y1="43.45" x2="64.00" y2="43.45" stroke="#1c1c1c" stroke-width="1.7"/>
<line x1="59.40" y1="8.60" x2="64.00" y2="8.60" stroke="#1c1c1c" stroke-width="1.7"/>
<line x1="61.40" y1="235.15" x2="64.00" y2="235.15" stroke="#1c1c1c" stroke-width="1.5"/>
<line x1="61.40" y1="200.29" x2="64.00" y2="200.29" stroke="#1c1c1c" stroke-width="1.5"/>
<line x1="61.40" y1="165.44" x2="64.00" y2="165.44" stroke="#1c1c1c" stroke-width="1.5"/>
<line x1="61.40" y1="130.59" x2="64.00" y2="130.59" stroke="#1c1c1c" stroke-width="1.5"/>
<line x1="61.40" y1="95.73" x2="64.00" y2="95.73" stroke="#1c1c1c" stroke-width="1.5"/>
<line x1="61.40" y1="60.88" x2="64.00" y2="60.88" stroke="#1c1c1c" stroke-width="1.5"/>
<line x1="61.40" y1="26.03" x2="64.00" y2="26.03" stroke="#1c1c1c" stroke-width="1.5"/>
<line x1="59.40" y1="514.65" x2="64.00" y2="514.65" stroke="#1c1c1c" stroke-width="1.7"/>
<line x1="59.40" y1="479.74" x2="64.00" y2="479.74" stroke="#1c1c1c" stroke-width="1.7"/>
<line x1="59.40" y1="444.83" x2="64.00" y2="444.83" stroke="#1c1c1c" stroke-width="1.7"/>
<line x1="59.40" y1="409.93" x2="64.00" y2="409.93" stroke="#1c1c1c" stroke-width="1.7"/>
<line x1="59.40" y1="375.02" x2="64.00" y2="375.02" stroke="#1c1c1c" stroke-width="1.7"/>
<line x1="59.40" y1="340.11" x2="64.00" y2="340.11" stroke="#1c1c1c" stroke-width="1.7"/>
<line x1="59.40" y1="305.21" x2="64.00" y2="305.21" stroke="#1c1c1c" stroke-width="1.7"/>
<line x1="59.40" y1="270.30" x2="64.00" y2="270.30" stroke="#1c1c1c" stroke-width="1.7"/>
<line x1="61.40" y1="497.19" x2="64.00" y2="497.19" stroke="#1c1c1c" stroke-width="1.5"/>
<line x1="61.40" y1="462.29" x2="64.00" y2="462.29" stroke="#1c1c1c" stroke-width="1.5"/>
<line x1="61.40" y1="427.38" x2="64.00" y2="427.38" stroke="#1c1c1c" stroke-width="1.5"/>
<line x1="61.40" y1="392.47" x2="64.00" y2="392.47" stroke="#1c1c1c" stroke-width="1.5"/>
<line x1="61.40" y1="357.57" x2="64.00" y2="357.57" stroke="#1c1c1c" stroke-width="1.5"/>
<line x1="61.40" y1="322.66" x2="64.00" y2="322.66" stroke="#1c1c1c" stroke-width="1.5"/>
<line x1="61.40" y1="287.75" x2="64.00" y2="287.75" stroke="#1c1c1c" stroke-width="1.5"/>
<line x1="404.90" y1="270.00" x2="409.50" y2="270.00" stroke="#1c1c1c" stroke-width="1.7"/>
<line x1="404.90" y1="229.77" x2="409.50" y2="229.77" stroke="#1c1c1c" stroke-width="1.7"/>
<line x1="404.90" y1="189.54" x2="409.50" y2="189.54" stroke="#1c1c1c" stroke-width="1.7"/>
<line x1="404.90" y1="149.31" x2="409.50" y2="149.31" stroke="#1c1c1c" stroke-width="1.7"/>
<line x1="404.90" y1="109.08" x2="409.50" y2="109.08" stroke="#1c1c1c" stroke-width="1.7"/>
<line x1="404.90" y1="68.85" x2="409.50" y2="68.85" stroke="#1c1c1c" stroke-width="1.7"/>
<line x1="404.90" y1="28.62" x2="409.50" y2="28.62" stroke="#1c1c1c" stroke-width="1.7"/>
<line x1="406.90" y1="249.88" x2="409.50" y2="249.88" stroke="#1c1c1c" stroke-width="1.5"/>
<line x1="406.90" y1="209.65" x2="409.50" y2="209.65" stroke="#1c1c1c" stroke-width="1.5"/>
<line x1="406.90" y1="169.42" x2="409.50" y2="169.42" stroke="#1c1c1c" stroke-width="1.5"/>
<line x1="406.90" y1="129.19" x2="409.50" y2="129.19" stroke="#1c1c1c" stroke-width="1.5"/>
<line x1="406.90" y1="88.96" x2="409.50" y2="88.96" stroke="#1c1c1c" stroke-width="1.5"/>
<line x1="406.90" y1="48.73" x2="409.50" y2="48.73" stroke="#1c1c1c" stroke-width="1.5"/>
<line x1="406.90" y1="8.50" x2="409.50" y2="8.50" stroke="#1c1c1c" stroke-width="1.5"/>
<line x1="404.90" y1="532.10" x2="409.50" y2="532.10" stroke="#1c1c1c" stroke-width="1.7"/>
<line x1="404.90" y1="491.82" x2="409.50" y2="491.82" stroke="#1c1c1c" stroke-width="1.7"/>
<line x1="404.90" y1="451.55" x2="409.50" y2="451.55" stroke="#1c1c1c" stroke-width="1.7"/>
<line x1="404.90" y1="411.27" x2="409.50" y2="411.27" stroke="#1c1c1c" stroke-width="1.7"/>
<line x1="404.90" y1="370.99" x2="409.50" y2="370.99" stroke="#1c1c1c" stroke-width="1.7"/>
<line x1="404.90" y1="330.72" x2="409.50" y2="330.72" stroke="#1c1c1c" stroke-width="1.7"/>
<line x1="404.90" y1="290.44" x2="409.50" y2="290.44" stroke="#1c1c1c" stroke-width="1.7"/>
<line x1="406.90" y1="511.96" x2="409.50" y2="511.96" stroke="#1c1c1c" stroke-width="1.5"/>
<line x1="406.90" y1="471.68" x2="409.50" y2="471.68" stroke="#1c1c1c" stroke-width="1.5"/>
<line x1="406.90" y1="431.41" x2="409.50" y2="431.41" stroke="#1c1c1c" stroke-width="1.5"/>
<line x1="406.90" y1="391.13" x2="409.50" y2="391.13" stroke="#1c1c1c" stroke-width="1.5"/>
<line x1="406.90" y1="350.85" x2="409.50" y2="350.85" stroke="#1c1c1c" stroke-width="1.5"/>
<line x1="406.90" y1="310.58" x2="409.50" y2="310.58" stroke="#1c1c1c" stroke-width="1.5"/>
<line x1="406.90" y1="270.30" x2="409.50" y2="270.30" stroke="#1c1c1c" stroke-width="1.5"/>
<text x="55.60" y="256.77" class="tk" text-anchor="end" textLength="9.0" lengthAdjust="spacingAndGlyphs">0</text>
<text x="55.60" y="221.92" class="tk" text-anchor="end" textLength="24.0" lengthAdjust="spacingAndGlyphs">100</text>
<text x="55.60" y="187.07" class="tk" text-anchor="end" textLength="27.0" lengthAdjust="spacingAndGlyphs">200</text>
<text x="55.60" y="152.21" class="tk" text-anchor="end" textLength="27.0" lengthAdjust="spacingAndGlyphs">300</text>
<text x="55.60" y="117.36" class="tk" text-anchor="end" textLength="27.0" lengthAdjust="spacingAndGlyphs">400</text>
<text x="55.60" y="82.51" class="tk" text-anchor="end" textLength="27.0" lengthAdjust="spacingAndGlyphs">500</text>
<text x="55.60" y="47.65" class="tk" text-anchor="end" textLength="27.0" lengthAdjust="spacingAndGlyphs">600</text>
<text x="55.60" y="12.80" class="tk" text-anchor="end" textLength="27.0" lengthAdjust="spacingAndGlyphs">700</text>
<text x="55.60" y="518.85" class="tk" text-anchor="end" textLength="9.0" lengthAdjust="spacingAndGlyphs">0</text>
<text x="55.60" y="483.94" class="tk" text-anchor="end" textLength="24.0" lengthAdjust="spacingAndGlyphs">100</text>
<text x="55.60" y="449.03" class="tk" text-anchor="end" textLength="27.0" lengthAdjust="spacingAndGlyphs">200</text>
<text x="55.60" y="414.13" class="tk" text-anchor="end" textLength="27.0" lengthAdjust="spacingAndGlyphs">300</text>
<text x="55.60" y="379.22" class="tk" text-anchor="end" textLength="27.0" lengthAdjust="spacingAndGlyphs">400</text>
<text x="55.60" y="344.31" class="tk" text-anchor="end" textLength="27.0" lengthAdjust="spacingAndGlyphs">500</text>
<text x="55.60" y="309.41" class="tk" text-anchor="end" textLength="27.0" lengthAdjust="spacingAndGlyphs">600</text>
<text x="55.60" y="274.50" class="tk" text-anchor="end" textLength="27.0" lengthAdjust="spacingAndGlyphs">700</text>
<text x="401.80" y="274.20" class="tk" text-anchor="end" textLength="9.0" lengthAdjust="spacingAndGlyphs">0</text>
<text x="401.80" y="233.97" class="tk" text-anchor="end" textLength="24.0" lengthAdjust="spacingAndGlyphs">100</text>
<text x="401.80" y="193.74" class="tk" text-anchor="end" textLength="27.0" lengthAdjust="spacingAndGlyphs">200</text>
<text x="401.80" y="153.51" class="tk" text-anchor="end" textLength="27.0" lengthAdjust="spacingAndGlyphs">300</text>
<text x="401.80" y="113.28" class="tk" text-anchor="end" textLength="27.0" lengthAdjust="spacingAndGlyphs">400</text>
<text x="401.80" y="73.05" class="tk" text-anchor="end" textLength="27.0" lengthAdjust="spacingAndGlyphs">500</text>
<text x="401.80" y="32.82" class="tk" text-anchor="end" textLength="27.0" lengthAdjust="spacingAndGlyphs">600</text>
<text x="401.80" y="536.30" class="tk" text-anchor="end" textLength="9.0" lengthAdjust="spacingAndGlyphs">0</text>
<text x="401.80" y="496.02" class="tk" text-anchor="end" textLength="24.0" lengthAdjust="spacingAndGlyphs">100</text>
<text x="401.80" y="455.75" class="tk" text-anchor="end" textLength="27.0" lengthAdjust="spacingAndGlyphs">200</text>
<text x="401.80" y="415.47" class="tk" text-anchor="end" textLength="27.0" lengthAdjust="spacingAndGlyphs">300</text>
<text x="401.80" y="375.19" class="tk" text-anchor="end" textLength="27.0" lengthAdjust="spacingAndGlyphs">400</text>
<text x="401.80" y="334.92" class="tk" text-anchor="end" textLength="27.0" lengthAdjust="spacingAndGlyphs">500</text>
<text x="401.80" y="294.64" class="tk" text-anchor="end" textLength="27.0" lengthAdjust="spacingAndGlyphs">600</text>
<line x1="93.06" y1="270.00" x2="93.06" y2="265.30" stroke="#1c1c1c" stroke-width="1.7"/>
<line x1="151.17" y1="270.00" x2="151.17" y2="265.30" stroke="#1c1c1c" stroke-width="1.7"/>
<line x1="209.28" y1="270.00" x2="209.28" y2="265.30" stroke="#1c1c1c" stroke-width="1.7"/>
<line x1="267.39" y1="270.00" x2="267.39" y2="265.30" stroke="#1c1c1c" stroke-width="1.7"/>
<line x1="325.50" y1="270.00" x2="325.50" y2="265.30" stroke="#1c1c1c" stroke-width="1.7"/>
<line x1="122.11" y1="270.00" x2="122.11" y2="267.20" stroke="#1c1c1c" stroke-width="1.5"/>
<line x1="180.22" y1="270.00" x2="180.22" y2="267.20" stroke="#1c1c1c" stroke-width="1.5"/>
<line x1="238.33" y1="270.00" x2="238.33" y2="267.20" stroke="#1c1c1c" stroke-width="1.5"/>
<line x1="296.44" y1="270.00" x2="296.44" y2="267.20" stroke="#1c1c1c" stroke-width="1.5"/>
<line x1="93.06" y1="532.10" x2="93.06" y2="536.80" stroke="#1c1c1c" stroke-width="1.7"/>
<line x1="151.17" y1="532.10" x2="151.17" y2="536.80" stroke="#1c1c1c" stroke-width="1.7"/>
<line x1="209.28" y1="532.10" x2="209.28" y2="536.80" stroke="#1c1c1c" stroke-width="1.7"/>
<line x1="267.39" y1="532.10" x2="267.39" y2="536.80" stroke="#1c1c1c" stroke-width="1.7"/>
<line x1="325.50" y1="532.10" x2="325.50" y2="536.80" stroke="#1c1c1c" stroke-width="1.7"/>
<line x1="64.00" y1="532.10" x2="64.00" y2="534.90" stroke="#1c1c1c" stroke-width="1.5"/>
<line x1="122.11" y1="532.10" x2="122.11" y2="534.90" stroke="#1c1c1c" stroke-width="1.5"/>
<line x1="180.22" y1="532.10" x2="180.22" y2="534.90" stroke="#1c1c1c" stroke-width="1.5"/>
<line x1="238.33" y1="532.10" x2="238.33" y2="534.90" stroke="#1c1c1c" stroke-width="1.5"/>
<line x1="296.44" y1="532.10" x2="296.44" y2="534.90" stroke="#1c1c1c" stroke-width="1.5"/>
<line x1="426.90" y1="270.00" x2="426.90" y2="265.30" stroke="#1c1c1c" stroke-width="1.7"/>
<line x1="461.70" y1="270.00" x2="461.70" y2="265.30" stroke="#1c1c1c" stroke-width="1.7"/>
<line x1="496.50" y1="270.00" x2="496.50" y2="265.30" stroke="#1c1c1c" stroke-width="1.7"/>
<line x1="531.30" y1="270.00" x2="531.30" y2="265.30" stroke="#1c1c1c" stroke-width="1.7"/>
<line x1="566.10" y1="270.00" x2="566.10" y2="265.30" stroke="#1c1c1c" stroke-width="1.7"/>
<line x1="600.90" y1="270.00" x2="600.90" y2="265.30" stroke="#1c1c1c" stroke-width="1.7"/>
<line x1="635.70" y1="270.00" x2="635.70" y2="265.30" stroke="#1c1c1c" stroke-width="1.7"/>
<line x1="670.50" y1="270.00" x2="670.50" y2="265.30" stroke="#1c1c1c" stroke-width="1.7"/>
<line x1="444.30" y1="270.00" x2="444.30" y2="267.20" stroke="#1c1c1c" stroke-width="1.5"/>
<line x1="479.10" y1="270.00" x2="479.10" y2="267.20" stroke="#1c1c1c" stroke-width="1.5"/>
<line x1="513.90" y1="270.00" x2="513.90" y2="267.20" stroke="#1c1c1c" stroke-width="1.5"/>
<line x1="548.70" y1="270.00" x2="548.70" y2="267.20" stroke="#1c1c1c" stroke-width="1.5"/>
<line x1="583.50" y1="270.00" x2="583.50" y2="267.20" stroke="#1c1c1c" stroke-width="1.5"/>
<line x1="618.30" y1="270.00" x2="618.30" y2="267.20" stroke="#1c1c1c" stroke-width="1.5"/>
<line x1="653.10" y1="270.00" x2="653.10" y2="267.20" stroke="#1c1c1c" stroke-width="1.5"/>
<line x1="426.90" y1="532.10" x2="426.90" y2="536.80" stroke="#1c1c1c" stroke-width="1.7"/>
<line x1="461.70" y1="532.10" x2="461.70" y2="536.80" stroke="#1c1c1c" stroke-width="1.7"/>
<line x1="496.50" y1="532.10" x2="496.50" y2="536.80" stroke="#1c1c1c" stroke-width="1.7"/>
<line x1="531.30" y1="532.10" x2="531.30" y2="536.80" stroke="#1c1c1c" stroke-width="1.7"/>
<line x1="566.10" y1="532.10" x2="566.10" y2="536.80" stroke="#1c1c1c" stroke-width="1.7"/>
<line x1="600.90" y1="532.10" x2="600.90" y2="536.80" stroke="#1c1c1c" stroke-width="1.7"/>
<line x1="635.70" y1="532.10" x2="635.70" y2="536.80" stroke="#1c1c1c" stroke-width="1.7"/>
<line x1="670.50" y1="532.10" x2="670.50" y2="536.80" stroke="#1c1c1c" stroke-width="1.7"/>
<line x1="409.50" y1="532.10" x2="409.50" y2="534.90" stroke="#1c1c1c" stroke-width="1.5"/>
<line x1="444.30" y1="532.10" x2="444.30" y2="534.90" stroke="#1c1c1c" stroke-width="1.5"/>
<line x1="479.10" y1="532.10" x2="479.10" y2="534.90" stroke="#1c1c1c" stroke-width="1.5"/>
<line x1="513.90" y1="532.10" x2="513.90" y2="534.90" stroke="#1c1c1c" stroke-width="1.5"/>
<line x1="548.70" y1="532.10" x2="548.70" y2="534.90" stroke="#1c1c1c" stroke-width="1.5"/>
<line x1="583.50" y1="532.10" x2="583.50" y2="534.90" stroke="#1c1c1c" stroke-width="1.5"/>
<line x1="618.30" y1="532.10" x2="618.30" y2="534.90" stroke="#1c1c1c" stroke-width="1.5"/>
<line x1="653.10" y1="532.10" x2="653.10" y2="534.90" stroke="#1c1c1c" stroke-width="1.5"/>
<text x="88.56" y="550.60" class="tk" textLength="9.0" lengthAdjust="spacingAndGlyphs">0</text>
<text x="142.17" y="550.60" class="tk" textLength="18.0" lengthAdjust="spacingAndGlyphs">50</text>
<text x="197.28" y="550.60" class="tk" textLength="24.0" lengthAdjust="spacingAndGlyphs">100</text>
<text x="255.39" y="550.60" class="tk" textLength="24.0" lengthAdjust="spacingAndGlyphs">150</text>
<text x="312.00" y="550.60" class="tk" textLength="27.0" lengthAdjust="spacingAndGlyphs">200</text>
<text x="422.40" y="550.60" class="tk" textLength="9.0" lengthAdjust="spacingAndGlyphs">0</text>
<text x="452.70" y="550.60" class="tk" textLength="18.0" lengthAdjust="spacingAndGlyphs">20</text>
<text x="487.50" y="550.60" class="tk" textLength="18.0" lengthAdjust="spacingAndGlyphs">40</text>
<text x="522.30" y="550.60" class="tk" textLength="18.0" lengthAdjust="spacingAndGlyphs">60</text>
<text x="557.10" y="550.60" class="tk" textLength="18.0" lengthAdjust="spacingAndGlyphs">80</text>
<text x="588.90" y="550.60" class="tk" textLength="24.0" lengthAdjust="spacingAndGlyphs">100</text>
<text x="623.70" y="550.60" class="tk" textLength="24.0" lengthAdjust="spacingAndGlyphs">120</text>
<text x="658.50" y="550.60" class="tk" textLength="24.0" lengthAdjust="spacingAndGlyphs">140</text>
<text x="77.3" y="35" class="pl">a</text>
<text x="77" y="298.8" class="pl">b</text>
<text x="424.5" y="37.2" class="pl">c</text>
<text x="422.8" y="299" class="pl">d</text>
<text transform="translate(12.3,145.9) rotate(-90)" class="at" text-anchor="middle" textLength="73.7" lengthAdjust="spacingAndGlyphs"><tspan font-style="italic">Q</tspan><tspan font-size="11" dy="4.3">e</tspan><tspan dy="-4.3"> </tspan><tspan font-size="11" dy="-0.8">(</tspan><tspan dy="0.8">mg g</tspan><tspan font-size="9.5" dy="-4.8">-1</tspan><tspan font-size="11" dy="4.0">)</tspan></text>
<text transform="translate(12.3,407.1) rotate(-90)" class="at" text-anchor="middle" textLength="73.7" lengthAdjust="spacingAndGlyphs"><tspan font-style="italic">Q</tspan><tspan font-size="11" dy="4.3">e</tspan><tspan dy="-4.3"> </tspan><tspan font-size="11" dy="-0.8">(</tspan><tspan dy="0.8">mg g</tspan><tspan font-size="9.5" dy="-4.8">-1</tspan><tspan font-size="11" dy="4.0">)</tspan></text>
<text transform="translate(356.2,145.0) rotate(-90)" class="at" text-anchor="middle" textLength="70.3" lengthAdjust="spacingAndGlyphs"><tspan font-style="italic">Q</tspan><tspan font-size="11" dy="4.3">t</tspan><tspan dy="-4.3"> </tspan><tspan font-size="11" dy="-0.8">(</tspan><tspan dy="0.8">mg g</tspan><tspan font-size="9.5" dy="-4.8">-1</tspan><tspan font-size="11" dy="4.0">)</tspan></text>
<text transform="translate(356.6,408.2) rotate(-90)" class="at" text-anchor="middle" textLength="70.3" lengthAdjust="spacingAndGlyphs"><tspan font-style="italic">Q</tspan><tspan font-size="11" dy="4.3">t</tspan><tspan dy="-4.3"> </tspan><tspan font-size="11" dy="-0.8">(</tspan><tspan dy="0.8">mg g</tspan><tspan font-size="9.5" dy="-4.8">-1</tspan><tspan font-size="11" dy="4.0">)</tspan></text>
<text x="194.4" y="576.2" class="at" text-anchor="middle" textLength="71.7" lengthAdjust="spacingAndGlyphs"><tspan font-style="italic">C</tspan><tspan font-size="11" dy="4.3">e</tspan><tspan dy="-4.3"> </tspan><tspan font-size="11" dy="-0.8">(</tspan><tspan dy="0.8">mg L</tspan><tspan font-size="9.5" dy="-4.8">-1</tspan><tspan font-size="11" dy="4.0">)</tspan></text>
<text x="540.3" y="574.1" class="at" text-anchor="middle" textLength="45.3" lengthAdjust="spacingAndGlyphs"><tspan font-style="italic">t</tspan> <tspan font-size="12" dy="0.3">(</tspan><tspan dy="-0.3">min</tspan><tspan font-size="12" dy="0.3">)</tspan></text>
<text x="141.8" y="186.7" class="lt" fill="#800080" textLength="22.0" lengthAdjust="spacingAndGlyphs">AF</text>
<circle cx="154.4" cy="199.7" r="2.3" fill="#111"/>
<text x="169.8" y="204.0" class="lg" textLength="126" lengthAdjust="spacingAndGlyphs">Experimental points</text>
<path d="M142.5,217.2H166.4" fill="none" stroke="#1414f0" stroke-width="1.9" stroke-linejoin="round"/>
<text x="169.8" y="221.0" class="lg" textLength="60.7" lengthAdjust="spacingAndGlyphs">Langmuir</text>
<path d="M142.5,235.1H166.4" fill="none" stroke="#ff1493" stroke-width="2" stroke-dasharray="3.8 2.95"/>
<text x="169.8" y="238.9" class="lg" textLength="67.4" lengthAdjust="spacingAndGlyphs">Freundlich</text>
<path d="M142.5,252.7H166.4" fill="none" stroke="#1f8a1f" stroke-width="2" stroke-dasharray="6.6 4.1 1.6 3.5 1.9 4"/>
<text x="169.8" y="256.5" class="lg" textLength="144.5" lengthAdjust="spacingAndGlyphs">Redlich-Peterson (R-P)</text>
<text x="145.8" y="450.5" class="lt" fill="#ff8000" textLength="23.8" lengthAdjust="spacingAndGlyphs">AO</text>
<circle cx="155.3" cy="462.5" r="2.3" fill="#111"/>
<text x="171.1" y="466.8" class="lg" textLength="126" lengthAdjust="spacingAndGlyphs">Experimental points</text>
<path d="M143.4,480.0H167.6" fill="none" stroke="#1414f0" stroke-width="1.9" stroke-linejoin="round"/>
<text x="171.1" y="483.8" class="lg" textLength="60.7" lengthAdjust="spacingAndGlyphs">Langmuir</text>
<path d="M143.4,497.7H167.6" fill="none" stroke="#ff1493" stroke-width="2" stroke-dasharray="3.8 2.95"/>
<text x="171.1" y="501.5" class="lg" textLength="67.4" lengthAdjust="spacingAndGlyphs">Freundlich</text>
<path d="M143.4,515.2H167.6" fill="none" stroke="#1f8a1f" stroke-width="2" stroke-dasharray="6.6 4.1 1.6 3.5 1.9 4"/>
<text x="171.1" y="519.0" class="lg" textLength="144.5" lengthAdjust="spacingAndGlyphs">Redlich-Peterson (R-P)</text>
<text x="508.4" y="188.4" class="lt" fill="#800080" textLength="22.0" lengthAdjust="spacingAndGlyphs">AF</text>
<circle cx="519.2" cy="201.6" r="2.3" fill="#111"/>
<text x="534.4" y="205.9" class="lg" textLength="126" lengthAdjust="spacingAndGlyphs">Experimental points</text>
<path d="M507.2,219.0H531.2" fill="none" stroke="#1414f0" stroke-width="1.9" stroke-linejoin="round"/>
<text x="534.4" y="222.8" class="lg" textLength="27.5" lengthAdjust="spacingAndGlyphs">PFO</text>
<path d="M507.2,236.7H531.2" fill="none" stroke="#ff1493" stroke-width="2" stroke-dasharray="3.8 2.95"/>
<text x="534.4" y="240.5" class="lg" textLength="26.3" lengthAdjust="spacingAndGlyphs">PSO</text>
<path d="M507.2,254.4H531.2" fill="none" stroke="#1f8a1f" stroke-width="2" stroke-dasharray="6.6 4.1 1.6 3.5 1.9 4"/>
<text x="534.4" y="258.2" class="lg" textLength="45.9" lengthAdjust="spacingAndGlyphs">Elovich</text>
<text x="507.8" y="447.8" class="lt" fill="#ff8000" textLength="23.8" lengthAdjust="spacingAndGlyphs">AO</text>
<circle cx="519.3" cy="461.3" r="2.3" fill="#111"/>
<text x="534.8" y="465.6" class="lg" textLength="126" lengthAdjust="spacingAndGlyphs">Experimental points</text>
<path d="M507.4,478.6H531.2" fill="none" stroke="#1414f0" stroke-width="1.9" stroke-linejoin="round"/>
<text x="534.8" y="482.4" class="lg" textLength="27.5" lengthAdjust="spacingAndGlyphs">PFO</text>
<path d="M507.4,496.5H531.2" fill="none" stroke="#ff1493" stroke-width="2" stroke-dasharray="3.8 2.95"/>
<text x="534.8" y="500.3" class="lg" textLength="26.3" lengthAdjust="spacingAndGlyphs">PSO</text>
<path d="M507.4,514.4H531.2" fill="none" stroke="#1f8a1f" stroke-width="2" stroke-dasharray="6.6 4.1 1.6 3.5 1.9 4"/>
<text x="534.8" y="518.2" class="lg" textLength="45.9" lengthAdjust="spacingAndGlyphs">Elovich</text>
</svg>
</body></html>
